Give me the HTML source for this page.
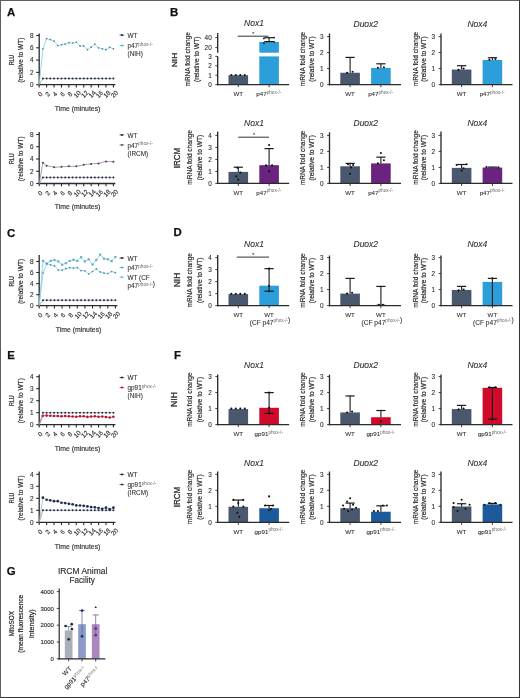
<!DOCTYPE html>
<html><head><meta charset="utf-8"><style>
html,body{margin:0;padding:0;background:#fff;}
body{width:520px;height:698px;overflow:hidden;position:relative;font-family:"Liberation Sans", sans-serif;}
svg{display:block;position:absolute;left:0;top:0;will-change:transform;}
.frame{position:absolute;left:0;top:0;width:518px;height:696px;border:1px solid #5e5e5e;border-right-color:#353535;border-bottom-color:#353535;pointer-events:none;}
</style></head><body>
<svg width="520" height="698" viewBox="0 0 520 698" font-family="'Liberation Sans', sans-serif">
<rect x="0" y="0" width="520" height="698" fill="#ffffff"/>
<text x="6.90" y="16.00" font-size="11.4" text-anchor="start" fill="#111" font-weight="bold" stroke="#111" stroke-width="0.25">A</text>
<text x="169.90" y="16.30" font-size="11.4" text-anchor="start" fill="#111" font-weight="bold" stroke="#111" stroke-width="0.25">B</text>
<text x="6.90" y="237.00" font-size="11.4" text-anchor="start" fill="#111" font-weight="bold" stroke="#111" stroke-width="0.25">C</text>
<text x="173.40" y="236.10" font-size="11.4" text-anchor="start" fill="#111" font-weight="bold" stroke="#111" stroke-width="0.25">D</text>
<text x="7.30" y="358.90" font-size="11.4" text-anchor="start" fill="#111" font-weight="bold" stroke="#111" stroke-width="0.25">E</text>
<text x="174.00" y="359.10" font-size="11.4" text-anchor="start" fill="#111" font-weight="bold" stroke="#111" stroke-width="0.25">F</text>
<text x="6.80" y="574.90" font-size="11.4" text-anchor="start" fill="#111" font-weight="bold" stroke="#111" stroke-width="0.25">G</text>
<line x1="39.20" y1="33.50" x2="39.20" y2="85.30" stroke="#2b2b2b" stroke-width="1.3"/>
<line x1="38.60" y1="84.70" x2="115.40" y2="84.70" stroke="#2b2b2b" stroke-width="1.3"/>
<line x1="36.20" y1="84.70" x2="39.20" y2="84.70" stroke="#2b2b2b" stroke-width="1.1"/>
<text x="33.60" y="87.00" font-size="6.4" text-anchor="end" fill="#2e2e2e" stroke="#2e2e2e" stroke-width="0.12" >0</text>
<line x1="36.20" y1="72.40" x2="39.20" y2="72.40" stroke="#2b2b2b" stroke-width="1.1"/>
<text x="33.60" y="74.70" font-size="6.4" text-anchor="end" fill="#2e2e2e" stroke="#2e2e2e" stroke-width="0.12" >2</text>
<line x1="36.20" y1="60.10" x2="39.20" y2="60.10" stroke="#2b2b2b" stroke-width="1.1"/>
<text x="33.60" y="62.40" font-size="6.4" text-anchor="end" fill="#2e2e2e" stroke="#2e2e2e" stroke-width="0.12" >4</text>
<line x1="36.20" y1="47.80" x2="39.20" y2="47.80" stroke="#2b2b2b" stroke-width="1.1"/>
<text x="33.60" y="50.10" font-size="6.4" text-anchor="end" fill="#2e2e2e" stroke="#2e2e2e" stroke-width="0.12" >6</text>
<line x1="36.20" y1="35.50" x2="39.20" y2="35.50" stroke="#2b2b2b" stroke-width="1.1"/>
<text x="33.60" y="37.80" font-size="6.4" text-anchor="end" fill="#2e2e2e" stroke="#2e2e2e" stroke-width="0.12" >8</text>
<line x1="39.20" y1="84.70" x2="39.20" y2="87.50" stroke="#2b2b2b" stroke-width="1.1"/>
<text x="40.40" y="96.40" font-size="6.4" text-anchor="middle" fill="#2e2e2e" stroke="#2e2e2e" stroke-width="0.12" transform="rotate(-45 40.40 94.50)">0</text>
<line x1="46.62" y1="84.70" x2="46.62" y2="87.50" stroke="#2b2b2b" stroke-width="1.1"/>
<text x="47.82" y="96.40" font-size="6.4" text-anchor="middle" fill="#2e2e2e" stroke="#2e2e2e" stroke-width="0.12" transform="rotate(-45 47.82 94.50)">2</text>
<line x1="54.04" y1="84.70" x2="54.04" y2="87.50" stroke="#2b2b2b" stroke-width="1.1"/>
<text x="55.24" y="96.40" font-size="6.4" text-anchor="middle" fill="#2e2e2e" stroke="#2e2e2e" stroke-width="0.12" transform="rotate(-45 55.24 94.50)">4</text>
<line x1="61.46" y1="84.70" x2="61.46" y2="87.50" stroke="#2b2b2b" stroke-width="1.1"/>
<text x="62.66" y="96.40" font-size="6.4" text-anchor="middle" fill="#2e2e2e" stroke="#2e2e2e" stroke-width="0.12" transform="rotate(-45 62.66 94.50)">6</text>
<line x1="68.88" y1="84.70" x2="68.88" y2="87.50" stroke="#2b2b2b" stroke-width="1.1"/>
<text x="70.08" y="96.40" font-size="6.4" text-anchor="middle" fill="#2e2e2e" stroke="#2e2e2e" stroke-width="0.12" transform="rotate(-45 70.08 94.50)">8</text>
<line x1="76.30" y1="84.70" x2="76.30" y2="87.50" stroke="#2b2b2b" stroke-width="1.1"/>
<text x="77.50" y="96.40" font-size="6.4" text-anchor="middle" fill="#2e2e2e" stroke="#2e2e2e" stroke-width="0.12" transform="rotate(-45 77.50 94.50)">10</text>
<line x1="83.72" y1="84.70" x2="83.72" y2="87.50" stroke="#2b2b2b" stroke-width="1.1"/>
<text x="84.92" y="96.40" font-size="6.4" text-anchor="middle" fill="#2e2e2e" stroke="#2e2e2e" stroke-width="0.12" transform="rotate(-45 84.92 94.50)">12</text>
<line x1="91.14" y1="84.70" x2="91.14" y2="87.50" stroke="#2b2b2b" stroke-width="1.1"/>
<text x="92.34" y="96.40" font-size="6.4" text-anchor="middle" fill="#2e2e2e" stroke="#2e2e2e" stroke-width="0.12" transform="rotate(-45 92.34 94.50)">14</text>
<line x1="98.56" y1="84.70" x2="98.56" y2="87.50" stroke="#2b2b2b" stroke-width="1.1"/>
<text x="99.76" y="96.40" font-size="6.4" text-anchor="middle" fill="#2e2e2e" stroke="#2e2e2e" stroke-width="0.12" transform="rotate(-45 99.76 94.50)">16</text>
<line x1="105.98" y1="84.70" x2="105.98" y2="87.50" stroke="#2b2b2b" stroke-width="1.1"/>
<text x="107.18" y="96.40" font-size="6.4" text-anchor="middle" fill="#2e2e2e" stroke="#2e2e2e" stroke-width="0.12" transform="rotate(-45 107.18 94.50)">18</text>
<line x1="113.40" y1="84.70" x2="113.40" y2="87.50" stroke="#2b2b2b" stroke-width="1.1"/>
<text x="114.60" y="96.40" font-size="6.4" text-anchor="middle" fill="#2e2e2e" stroke="#2e2e2e" stroke-width="0.12" transform="rotate(-45 114.60 94.50)">20</text>
<polyline points="39.20,84.70 42.91,48.78 46.62,38.58 50.33,39.62 54.04,41.22 57.75,45.52 61.46,44.73 65.17,44.11 68.88,42.70 72.59,43.00 76.30,42.27 80.01,45.95 83.72,45.95 87.43,49.65 91.14,47.19 94.85,44.11 98.56,47.80 102.27,48.78 105.98,49.65 109.69,47.31 113.40,48.78" fill="none" stroke="#8cd4ee" stroke-width="0.9"/>
<circle cx="42.91" cy="48.78" r="0.85" fill="#4f8796"/>
<circle cx="46.62" cy="38.58" r="0.85" fill="#4f8796"/>
<circle cx="50.33" cy="39.62" r="0.85" fill="#4f8796"/>
<circle cx="54.04" cy="41.22" r="0.85" fill="#4f8796"/>
<circle cx="57.75" cy="45.52" r="0.85" fill="#4f8796"/>
<circle cx="61.46" cy="44.73" r="0.85" fill="#4f8796"/>
<circle cx="65.17" cy="44.11" r="0.85" fill="#4f8796"/>
<circle cx="68.88" cy="42.70" r="0.85" fill="#4f8796"/>
<circle cx="72.59" cy="43.00" r="0.85" fill="#4f8796"/>
<circle cx="76.30" cy="42.27" r="0.85" fill="#4f8796"/>
<circle cx="80.01" cy="45.95" r="0.85" fill="#4f8796"/>
<circle cx="83.72" cy="45.95" r="0.85" fill="#4f8796"/>
<circle cx="87.43" cy="49.65" r="0.85" fill="#4f8796"/>
<circle cx="91.14" cy="47.19" r="0.85" fill="#4f8796"/>
<circle cx="94.85" cy="44.11" r="0.85" fill="#4f8796"/>
<circle cx="98.56" cy="47.80" r="0.85" fill="#4f8796"/>
<circle cx="102.27" cy="48.78" r="0.85" fill="#4f8796"/>
<circle cx="105.98" cy="49.65" r="0.85" fill="#4f8796"/>
<circle cx="109.69" cy="47.31" r="0.85" fill="#4f8796"/>
<circle cx="113.40" cy="48.78" r="0.85" fill="#4f8796"/>
<polyline points="39.20,84.70 42.91,78.55 46.62,78.55 50.33,78.55 54.04,78.55 57.75,78.55 61.46,78.55 65.17,78.55 68.88,78.55 72.59,78.55 76.30,78.55 80.01,78.55 83.72,78.55 87.43,78.55 91.14,78.55 94.85,78.55 98.56,78.55 102.27,78.55 105.98,78.55 109.69,78.55 113.40,78.55" fill="none" stroke="#8a93a0" stroke-width="0.7"/>
<circle cx="42.91" cy="78.55" r="1.0" fill="#1f2a3d"/>
<circle cx="46.62" cy="78.55" r="1.0" fill="#1f2a3d"/>
<circle cx="50.33" cy="78.55" r="1.0" fill="#1f2a3d"/>
<circle cx="54.04" cy="78.55" r="1.0" fill="#1f2a3d"/>
<circle cx="57.75" cy="78.55" r="1.0" fill="#1f2a3d"/>
<circle cx="61.46" cy="78.55" r="1.0" fill="#1f2a3d"/>
<circle cx="65.17" cy="78.55" r="1.0" fill="#1f2a3d"/>
<circle cx="68.88" cy="78.55" r="1.0" fill="#1f2a3d"/>
<circle cx="72.59" cy="78.55" r="1.0" fill="#1f2a3d"/>
<circle cx="76.30" cy="78.55" r="1.0" fill="#1f2a3d"/>
<circle cx="80.01" cy="78.55" r="1.0" fill="#1f2a3d"/>
<circle cx="83.72" cy="78.55" r="1.0" fill="#1f2a3d"/>
<circle cx="87.43" cy="78.55" r="1.0" fill="#1f2a3d"/>
<circle cx="91.14" cy="78.55" r="1.0" fill="#1f2a3d"/>
<circle cx="94.85" cy="78.55" r="1.0" fill="#1f2a3d"/>
<circle cx="98.56" cy="78.55" r="1.0" fill="#1f2a3d"/>
<circle cx="102.27" cy="78.55" r="1.0" fill="#1f2a3d"/>
<circle cx="105.98" cy="78.55" r="1.0" fill="#1f2a3d"/>
<circle cx="109.69" cy="78.55" r="1.0" fill="#1f2a3d"/>
<circle cx="113.40" cy="78.55" r="1.0" fill="#1f2a3d"/>
<line x1="119.60" y1="35.10" x2="124.20" y2="35.10" stroke="#1d2a44" stroke-width="0.8"/>
<circle cx="121.90" cy="35.10" r="1.0" fill="#1d2a44"/>
<text x="127.50" y="37.70" font-size="6.4" text-anchor="start" fill="#2e2e2e" stroke="#2e2e2e" stroke-width="0.08" >WT</text>
<line x1="119.60" y1="45.60" x2="124.20" y2="45.60" stroke="#3cb4e0" stroke-width="0.8"/>
<circle cx="121.90" cy="45.60" r="1.0" fill="#3cb4e0"/>
<text x="127.50" y="48.20" font-size="6.4" text-anchor="start" fill="#2e2e2e" stroke="#2e2e2e" stroke-width="0.08" >p47<tspan font-size="4.7" dy="-2.5" fill="#666" stroke="none">phox-/-</tspan></text>
<text x="127.50" y="56.40" font-size="6.4" text-anchor="start" fill="#2e2e2e" stroke="#2e2e2e" stroke-width="0.08" >(NIH)</text>
<text x="77.60" y="110.80" font-size="7.2" text-anchor="middle" fill="#2e2e2e" stroke="#2e2e2e" stroke-width="0.15" textLength="45.5" lengthAdjust="spacingAndGlyphs" >Time (minutes)</text>
<text x="14.20" y="60.10" font-size="8.0" text-anchor="middle" fill="#2e2e2e" stroke="#2e2e2e" stroke-width="0.2" textLength="10.5" lengthAdjust="spacingAndGlyphs" transform="rotate(-90 14.20 60.10)" >RLU</text>
<text x="23.40" y="60.10" font-size="7.4" text-anchor="middle" fill="#2e2e2e" stroke="#2e2e2e" stroke-width="0.2" textLength="45" lengthAdjust="spacingAndGlyphs" transform="rotate(-90 23.40 60.10)" >(relative to WT)</text>
<line x1="39.20" y1="132.00" x2="39.20" y2="184.10" stroke="#2b2b2b" stroke-width="1.3"/>
<line x1="38.60" y1="183.50" x2="115.40" y2="183.50" stroke="#2b2b2b" stroke-width="1.3"/>
<line x1="36.20" y1="183.50" x2="39.20" y2="183.50" stroke="#2b2b2b" stroke-width="1.1"/>
<text x="33.60" y="185.80" font-size="6.4" text-anchor="end" fill="#2e2e2e" stroke="#2e2e2e" stroke-width="0.12" >0</text>
<line x1="36.20" y1="171.25" x2="39.20" y2="171.25" stroke="#2b2b2b" stroke-width="1.1"/>
<text x="33.60" y="173.55" font-size="6.4" text-anchor="end" fill="#2e2e2e" stroke="#2e2e2e" stroke-width="0.12" >2</text>
<line x1="36.20" y1="159.00" x2="39.20" y2="159.00" stroke="#2b2b2b" stroke-width="1.1"/>
<text x="33.60" y="161.30" font-size="6.4" text-anchor="end" fill="#2e2e2e" stroke="#2e2e2e" stroke-width="0.12" >4</text>
<line x1="36.20" y1="146.75" x2="39.20" y2="146.75" stroke="#2b2b2b" stroke-width="1.1"/>
<text x="33.60" y="149.05" font-size="6.4" text-anchor="end" fill="#2e2e2e" stroke="#2e2e2e" stroke-width="0.12" >6</text>
<line x1="36.20" y1="134.50" x2="39.20" y2="134.50" stroke="#2b2b2b" stroke-width="1.1"/>
<text x="33.60" y="136.80" font-size="6.4" text-anchor="end" fill="#2e2e2e" stroke="#2e2e2e" stroke-width="0.12" >8</text>
<line x1="39.20" y1="183.50" x2="39.20" y2="186.30" stroke="#2b2b2b" stroke-width="1.1"/>
<text x="40.40" y="195.20" font-size="6.4" text-anchor="middle" fill="#2e2e2e" stroke="#2e2e2e" stroke-width="0.12" transform="rotate(-45 40.40 193.30)">0</text>
<line x1="46.62" y1="183.50" x2="46.62" y2="186.30" stroke="#2b2b2b" stroke-width="1.1"/>
<text x="47.82" y="195.20" font-size="6.4" text-anchor="middle" fill="#2e2e2e" stroke="#2e2e2e" stroke-width="0.12" transform="rotate(-45 47.82 193.30)">2</text>
<line x1="54.04" y1="183.50" x2="54.04" y2="186.30" stroke="#2b2b2b" stroke-width="1.1"/>
<text x="55.24" y="195.20" font-size="6.4" text-anchor="middle" fill="#2e2e2e" stroke="#2e2e2e" stroke-width="0.12" transform="rotate(-45 55.24 193.30)">4</text>
<line x1="61.46" y1="183.50" x2="61.46" y2="186.30" stroke="#2b2b2b" stroke-width="1.1"/>
<text x="62.66" y="195.20" font-size="6.4" text-anchor="middle" fill="#2e2e2e" stroke="#2e2e2e" stroke-width="0.12" transform="rotate(-45 62.66 193.30)">6</text>
<line x1="68.88" y1="183.50" x2="68.88" y2="186.30" stroke="#2b2b2b" stroke-width="1.1"/>
<text x="70.08" y="195.20" font-size="6.4" text-anchor="middle" fill="#2e2e2e" stroke="#2e2e2e" stroke-width="0.12" transform="rotate(-45 70.08 193.30)">8</text>
<line x1="76.30" y1="183.50" x2="76.30" y2="186.30" stroke="#2b2b2b" stroke-width="1.1"/>
<text x="77.50" y="195.20" font-size="6.4" text-anchor="middle" fill="#2e2e2e" stroke="#2e2e2e" stroke-width="0.12" transform="rotate(-45 77.50 193.30)">10</text>
<line x1="83.72" y1="183.50" x2="83.72" y2="186.30" stroke="#2b2b2b" stroke-width="1.1"/>
<text x="84.92" y="195.20" font-size="6.4" text-anchor="middle" fill="#2e2e2e" stroke="#2e2e2e" stroke-width="0.12" transform="rotate(-45 84.92 193.30)">12</text>
<line x1="91.14" y1="183.50" x2="91.14" y2="186.30" stroke="#2b2b2b" stroke-width="1.1"/>
<text x="92.34" y="195.20" font-size="6.4" text-anchor="middle" fill="#2e2e2e" stroke="#2e2e2e" stroke-width="0.12" transform="rotate(-45 92.34 193.30)">14</text>
<line x1="98.56" y1="183.50" x2="98.56" y2="186.30" stroke="#2b2b2b" stroke-width="1.1"/>
<text x="99.76" y="195.20" font-size="6.4" text-anchor="middle" fill="#2e2e2e" stroke="#2e2e2e" stroke-width="0.12" transform="rotate(-45 99.76 193.30)">16</text>
<line x1="105.98" y1="183.50" x2="105.98" y2="186.30" stroke="#2b2b2b" stroke-width="1.1"/>
<text x="107.18" y="195.20" font-size="6.4" text-anchor="middle" fill="#2e2e2e" stroke="#2e2e2e" stroke-width="0.12" transform="rotate(-45 107.18 193.30)">18</text>
<line x1="113.40" y1="183.50" x2="113.40" y2="186.30" stroke="#2b2b2b" stroke-width="1.1"/>
<text x="114.60" y="195.20" font-size="6.4" text-anchor="middle" fill="#2e2e2e" stroke="#2e2e2e" stroke-width="0.12" transform="rotate(-45 114.60 193.30)">20</text>
<polyline points="39.20,183.50 42.91,162.68 46.62,165.74 50.33,166.35 54.04,167.27 57.75,167.09 61.46,166.84 65.17,166.59 68.88,166.35 72.59,166.35 76.30,166.35 80.01,165.62 83.72,164.82 87.43,164.39 91.14,163.90 94.85,163.66 98.56,163.47 102.27,162.37 105.98,161.45 109.69,161.57 113.40,161.76" fill="none" stroke="#a08aa6" stroke-width="0.9"/>
<circle cx="42.91" cy="162.68" r="1.0" fill="#4d3a55"/>
<circle cx="46.62" cy="165.74" r="1.0" fill="#4d3a55"/>
<circle cx="54.04" cy="167.27" r="1.0" fill="#4d3a55"/>
<circle cx="61.46" cy="166.84" r="1.0" fill="#4d3a55"/>
<circle cx="68.88" cy="166.35" r="1.0" fill="#4d3a55"/>
<circle cx="76.30" cy="166.35" r="1.0" fill="#4d3a55"/>
<circle cx="83.72" cy="164.82" r="1.0" fill="#4d3a55"/>
<circle cx="91.14" cy="163.90" r="1.0" fill="#4d3a55"/>
<circle cx="98.56" cy="163.47" r="1.0" fill="#4d3a55"/>
<circle cx="105.98" cy="161.45" r="1.0" fill="#4d3a55"/>
<circle cx="113.40" cy="161.76" r="1.0" fill="#4d3a55"/>
<polyline points="39.20,183.50 42.91,177.38 46.62,177.38 50.33,177.38 54.04,177.38 57.75,177.38 61.46,177.38 65.17,177.38 68.88,177.38 72.59,177.38 76.30,177.38 80.01,177.38 83.72,177.38 87.43,177.38 91.14,177.38 94.85,177.38 98.56,177.38 102.27,177.38 105.98,177.38 109.69,177.38 113.40,177.38" fill="none" stroke="#8a93a0" stroke-width="0.7"/>
<circle cx="42.91" cy="177.38" r="1.0" fill="#1f2a3d"/>
<circle cx="46.62" cy="177.38" r="1.0" fill="#1f2a3d"/>
<circle cx="50.33" cy="177.38" r="1.0" fill="#1f2a3d"/>
<circle cx="54.04" cy="177.38" r="1.0" fill="#1f2a3d"/>
<circle cx="57.75" cy="177.38" r="1.0" fill="#1f2a3d"/>
<circle cx="61.46" cy="177.38" r="1.0" fill="#1f2a3d"/>
<circle cx="65.17" cy="177.38" r="1.0" fill="#1f2a3d"/>
<circle cx="68.88" cy="177.38" r="1.0" fill="#1f2a3d"/>
<circle cx="72.59" cy="177.38" r="1.0" fill="#1f2a3d"/>
<circle cx="76.30" cy="177.38" r="1.0" fill="#1f2a3d"/>
<circle cx="80.01" cy="177.38" r="1.0" fill="#1f2a3d"/>
<circle cx="83.72" cy="177.38" r="1.0" fill="#1f2a3d"/>
<circle cx="87.43" cy="177.38" r="1.0" fill="#1f2a3d"/>
<circle cx="91.14" cy="177.38" r="1.0" fill="#1f2a3d"/>
<circle cx="94.85" cy="177.38" r="1.0" fill="#1f2a3d"/>
<circle cx="98.56" cy="177.38" r="1.0" fill="#1f2a3d"/>
<circle cx="102.27" cy="177.38" r="1.0" fill="#1f2a3d"/>
<circle cx="105.98" cy="177.38" r="1.0" fill="#1f2a3d"/>
<circle cx="109.69" cy="177.38" r="1.0" fill="#1f2a3d"/>
<circle cx="113.40" cy="177.38" r="1.0" fill="#1f2a3d"/>
<line x1="119.60" y1="134.90" x2="124.20" y2="134.90" stroke="#1d2a44" stroke-width="0.8"/>
<circle cx="121.90" cy="134.90" r="1.0" fill="#1d2a44"/>
<text x="127.50" y="137.50" font-size="6.4" text-anchor="start" fill="#2e2e2e" stroke="#2e2e2e" stroke-width="0.08" >WT</text>
<line x1="119.60" y1="144.90" x2="124.20" y2="144.90" stroke="#7a4a7e" stroke-width="0.8"/>
<circle cx="121.90" cy="144.90" r="1.0" fill="#7a4a7e"/>
<text x="127.50" y="147.50" font-size="6.4" text-anchor="start" fill="#2e2e2e" stroke="#2e2e2e" stroke-width="0.08" >p47<tspan font-size="4.7" dy="-2.5" fill="#666" stroke="none">phox-/-</tspan></text>
<text x="127.50" y="155.70" font-size="6.4" text-anchor="start" fill="#2e2e2e" stroke="#2e2e2e" stroke-width="0.08" >(IRCM)</text>
<text x="77.60" y="209.40" font-size="7.2" text-anchor="middle" fill="#2e2e2e" stroke="#2e2e2e" stroke-width="0.15" textLength="45.5" lengthAdjust="spacingAndGlyphs" >Time (minutes)</text>
<text x="14.20" y="158.75" font-size="8.0" text-anchor="middle" fill="#2e2e2e" stroke="#2e2e2e" stroke-width="0.2" textLength="10.5" lengthAdjust="spacingAndGlyphs" transform="rotate(-90 14.20 158.75)" >RLU</text>
<text x="23.40" y="158.75" font-size="7.4" text-anchor="middle" fill="#2e2e2e" stroke="#2e2e2e" stroke-width="0.2" textLength="45" lengthAdjust="spacingAndGlyphs" transform="rotate(-90 23.40 158.75)" >(relative to WT)</text>
<line x1="39.20" y1="255.00" x2="39.20" y2="306.30" stroke="#2b2b2b" stroke-width="1.3"/>
<line x1="38.60" y1="305.70" x2="117.40" y2="305.70" stroke="#2b2b2b" stroke-width="1.3"/>
<line x1="36.20" y1="305.70" x2="39.20" y2="305.70" stroke="#2b2b2b" stroke-width="1.1"/>
<text x="33.60" y="308.00" font-size="6.4" text-anchor="end" fill="#2e2e2e" stroke="#2e2e2e" stroke-width="0.12" >0</text>
<line x1="36.20" y1="294.64" x2="39.20" y2="294.64" stroke="#2b2b2b" stroke-width="1.1"/>
<text x="33.60" y="296.94" font-size="6.4" text-anchor="end" fill="#2e2e2e" stroke="#2e2e2e" stroke-width="0.12" >2</text>
<line x1="36.20" y1="283.58" x2="39.20" y2="283.58" stroke="#2b2b2b" stroke-width="1.1"/>
<text x="33.60" y="285.88" font-size="6.4" text-anchor="end" fill="#2e2e2e" stroke="#2e2e2e" stroke-width="0.12" >4</text>
<line x1="36.20" y1="272.52" x2="39.20" y2="272.52" stroke="#2b2b2b" stroke-width="1.1"/>
<text x="33.60" y="274.82" font-size="6.4" text-anchor="end" fill="#2e2e2e" stroke="#2e2e2e" stroke-width="0.12" >6</text>
<line x1="36.20" y1="261.46" x2="39.20" y2="261.46" stroke="#2b2b2b" stroke-width="1.1"/>
<text x="33.60" y="263.76" font-size="6.4" text-anchor="end" fill="#2e2e2e" stroke="#2e2e2e" stroke-width="0.12" >8</text>
<line x1="39.20" y1="305.70" x2="39.20" y2="308.50" stroke="#2b2b2b" stroke-width="1.1"/>
<text x="40.40" y="317.40" font-size="6.4" text-anchor="middle" fill="#2e2e2e" stroke="#2e2e2e" stroke-width="0.12" transform="rotate(-45 40.40 315.50)">0</text>
<line x1="46.82" y1="305.70" x2="46.82" y2="308.50" stroke="#2b2b2b" stroke-width="1.1"/>
<text x="48.02" y="317.40" font-size="6.4" text-anchor="middle" fill="#2e2e2e" stroke="#2e2e2e" stroke-width="0.12" transform="rotate(-45 48.02 315.50)">2</text>
<line x1="54.44" y1="305.70" x2="54.44" y2="308.50" stroke="#2b2b2b" stroke-width="1.1"/>
<text x="55.64" y="317.40" font-size="6.4" text-anchor="middle" fill="#2e2e2e" stroke="#2e2e2e" stroke-width="0.12" transform="rotate(-45 55.64 315.50)">4</text>
<line x1="62.06" y1="305.70" x2="62.06" y2="308.50" stroke="#2b2b2b" stroke-width="1.1"/>
<text x="63.26" y="317.40" font-size="6.4" text-anchor="middle" fill="#2e2e2e" stroke="#2e2e2e" stroke-width="0.12" transform="rotate(-45 63.26 315.50)">6</text>
<line x1="69.68" y1="305.70" x2="69.68" y2="308.50" stroke="#2b2b2b" stroke-width="1.1"/>
<text x="70.88" y="317.40" font-size="6.4" text-anchor="middle" fill="#2e2e2e" stroke="#2e2e2e" stroke-width="0.12" transform="rotate(-45 70.88 315.50)">8</text>
<line x1="77.30" y1="305.70" x2="77.30" y2="308.50" stroke="#2b2b2b" stroke-width="1.1"/>
<text x="78.50" y="317.40" font-size="6.4" text-anchor="middle" fill="#2e2e2e" stroke="#2e2e2e" stroke-width="0.12" transform="rotate(-45 78.50 315.50)">10</text>
<line x1="84.92" y1="305.70" x2="84.92" y2="308.50" stroke="#2b2b2b" stroke-width="1.1"/>
<text x="86.12" y="317.40" font-size="6.4" text-anchor="middle" fill="#2e2e2e" stroke="#2e2e2e" stroke-width="0.12" transform="rotate(-45 86.12 315.50)">12</text>
<line x1="92.54" y1="305.70" x2="92.54" y2="308.50" stroke="#2b2b2b" stroke-width="1.1"/>
<text x="93.74" y="317.40" font-size="6.4" text-anchor="middle" fill="#2e2e2e" stroke="#2e2e2e" stroke-width="0.12" transform="rotate(-45 93.74 315.50)">14</text>
<line x1="100.16" y1="305.70" x2="100.16" y2="308.50" stroke="#2b2b2b" stroke-width="1.1"/>
<text x="101.36" y="317.40" font-size="6.4" text-anchor="middle" fill="#2e2e2e" stroke="#2e2e2e" stroke-width="0.12" transform="rotate(-45 101.36 315.50)">16</text>
<line x1="107.78" y1="305.70" x2="107.78" y2="308.50" stroke="#2b2b2b" stroke-width="1.1"/>
<text x="108.98" y="317.40" font-size="6.4" text-anchor="middle" fill="#2e2e2e" stroke="#2e2e2e" stroke-width="0.12" transform="rotate(-45 108.98 315.50)">18</text>
<line x1="115.40" y1="305.70" x2="115.40" y2="308.50" stroke="#2b2b2b" stroke-width="1.1"/>
<text x="116.60" y="317.40" font-size="6.4" text-anchor="middle" fill="#2e2e2e" stroke="#2e2e2e" stroke-width="0.12" transform="rotate(-45 116.60 315.50)">20</text>
<polyline points="39.20,305.70 43.01,260.91 46.82,263.67 50.63,260.91 54.44,260.02 58.25,261.46 62.06,264.78 65.87,263.12 69.68,260.91 73.49,259.80 77.30,260.91 81.11,257.20 84.92,261.46 88.73,259.25 92.54,264.61 96.35,260.02 100.16,254.60 103.97,258.69 107.78,259.25 111.59,261.18 115.40,257.04" fill="none" stroke="#86d3ec" stroke-width="0.9"/>
<rect x="41.91" y="259.81" width="2.2" height="2.2" fill="#6aaec2"/>
<rect x="45.72" y="262.57" width="2.2" height="2.2" fill="#6aaec2"/>
<rect x="49.53" y="259.81" width="2.2" height="2.2" fill="#6aaec2"/>
<rect x="53.34" y="258.92" width="2.2" height="2.2" fill="#6aaec2"/>
<rect x="57.15" y="260.36" width="2.2" height="2.2" fill="#6aaec2"/>
<rect x="60.96" y="263.68" width="2.2" height="2.2" fill="#6aaec2"/>
<rect x="64.77" y="262.02" width="2.2" height="2.2" fill="#6aaec2"/>
<rect x="68.58" y="259.81" width="2.2" height="2.2" fill="#6aaec2"/>
<rect x="72.39" y="258.70" width="2.2" height="2.2" fill="#6aaec2"/>
<rect x="76.20" y="259.81" width="2.2" height="2.2" fill="#6aaec2"/>
<rect x="80.01" y="256.10" width="2.2" height="2.2" fill="#6aaec2"/>
<rect x="83.82" y="260.36" width="2.2" height="2.2" fill="#6aaec2"/>
<rect x="87.63" y="258.15" width="2.2" height="2.2" fill="#6aaec2"/>
<rect x="91.44" y="263.51" width="2.2" height="2.2" fill="#6aaec2"/>
<rect x="95.25" y="258.92" width="2.2" height="2.2" fill="#6aaec2"/>
<rect x="99.06" y="253.50" width="2.2" height="2.2" fill="#6aaec2"/>
<rect x="102.87" y="257.59" width="2.2" height="2.2" fill="#6aaec2"/>
<rect x="106.68" y="258.15" width="2.2" height="2.2" fill="#6aaec2"/>
<rect x="110.49" y="260.08" width="2.2" height="2.2" fill="#6aaec2"/>
<rect x="114.30" y="255.94" width="2.2" height="2.2" fill="#6aaec2"/>
<polyline points="39.20,305.70 43.01,273.07 46.82,263.67 50.63,264.78 54.44,265.88 58.25,270.03 62.06,270.03 65.87,268.65 69.68,267.71 73.49,268.10 77.30,267.54 81.11,270.53 84.92,270.86 88.73,273.79 92.54,271.52 96.35,268.93 100.16,271.97 103.97,273.07 107.78,273.52 111.59,271.52 115.40,272.63" fill="none" stroke="#8cd4ee" stroke-width="0.9"/>
<circle cx="43.01" cy="273.07" r="0.85" fill="#4f8796"/>
<circle cx="46.82" cy="263.67" r="0.85" fill="#4f8796"/>
<circle cx="50.63" cy="264.78" r="0.85" fill="#4f8796"/>
<circle cx="54.44" cy="265.88" r="0.85" fill="#4f8796"/>
<circle cx="58.25" cy="270.03" r="0.85" fill="#4f8796"/>
<circle cx="62.06" cy="270.03" r="0.85" fill="#4f8796"/>
<circle cx="65.87" cy="268.65" r="0.85" fill="#4f8796"/>
<circle cx="69.68" cy="267.71" r="0.85" fill="#4f8796"/>
<circle cx="73.49" cy="268.10" r="0.85" fill="#4f8796"/>
<circle cx="77.30" cy="267.54" r="0.85" fill="#4f8796"/>
<circle cx="81.11" cy="270.53" r="0.85" fill="#4f8796"/>
<circle cx="84.92" cy="270.86" r="0.85" fill="#4f8796"/>
<circle cx="88.73" cy="273.79" r="0.85" fill="#4f8796"/>
<circle cx="92.54" cy="271.52" r="0.85" fill="#4f8796"/>
<circle cx="96.35" cy="268.93" r="0.85" fill="#4f8796"/>
<circle cx="100.16" cy="271.97" r="0.85" fill="#4f8796"/>
<circle cx="103.97" cy="273.07" r="0.85" fill="#4f8796"/>
<circle cx="107.78" cy="273.52" r="0.85" fill="#4f8796"/>
<circle cx="111.59" cy="271.52" r="0.85" fill="#4f8796"/>
<circle cx="115.40" cy="272.63" r="0.85" fill="#4f8796"/>
<polyline points="39.20,305.70 43.01,300.17 46.82,300.17 50.63,300.17 54.44,300.17 58.25,300.17 62.06,300.17 65.87,300.17 69.68,300.17 73.49,300.17 77.30,300.17 81.11,300.17 84.92,300.17 88.73,300.17 92.54,300.17 96.35,300.17 100.16,300.17 103.97,300.17 107.78,300.17 111.59,300.17 115.40,300.17" fill="none" stroke="#8a93a0" stroke-width="0.7"/>
<circle cx="43.01" cy="300.17" r="1.0" fill="#1f2a3d"/>
<circle cx="46.82" cy="300.17" r="1.0" fill="#1f2a3d"/>
<circle cx="50.63" cy="300.17" r="1.0" fill="#1f2a3d"/>
<circle cx="54.44" cy="300.17" r="1.0" fill="#1f2a3d"/>
<circle cx="58.25" cy="300.17" r="1.0" fill="#1f2a3d"/>
<circle cx="62.06" cy="300.17" r="1.0" fill="#1f2a3d"/>
<circle cx="65.87" cy="300.17" r="1.0" fill="#1f2a3d"/>
<circle cx="69.68" cy="300.17" r="1.0" fill="#1f2a3d"/>
<circle cx="73.49" cy="300.17" r="1.0" fill="#1f2a3d"/>
<circle cx="77.30" cy="300.17" r="1.0" fill="#1f2a3d"/>
<circle cx="81.11" cy="300.17" r="1.0" fill="#1f2a3d"/>
<circle cx="84.92" cy="300.17" r="1.0" fill="#1f2a3d"/>
<circle cx="88.73" cy="300.17" r="1.0" fill="#1f2a3d"/>
<circle cx="92.54" cy="300.17" r="1.0" fill="#1f2a3d"/>
<circle cx="96.35" cy="300.17" r="1.0" fill="#1f2a3d"/>
<circle cx="100.16" cy="300.17" r="1.0" fill="#1f2a3d"/>
<circle cx="103.97" cy="300.17" r="1.0" fill="#1f2a3d"/>
<circle cx="107.78" cy="300.17" r="1.0" fill="#1f2a3d"/>
<circle cx="111.59" cy="300.17" r="1.0" fill="#1f2a3d"/>
<circle cx="115.40" cy="300.17" r="1.0" fill="#1f2a3d"/>
<line x1="119.60" y1="258.00" x2="124.20" y2="258.00" stroke="#1d2a44" stroke-width="0.8"/>
<circle cx="121.90" cy="258.00" r="1.0" fill="#1d2a44"/>
<text x="127.50" y="260.60" font-size="6.4" text-anchor="start" fill="#2e2e2e" stroke="#2e2e2e" stroke-width="0.08" >WT</text>
<line x1="119.60" y1="267.60" x2="124.20" y2="267.60" stroke="#3cb4e0" stroke-width="0.8"/>
<circle cx="121.90" cy="267.60" r="1.0" fill="#3cb4e0"/>
<text x="127.50" y="270.20" font-size="6.4" text-anchor="start" fill="#2e2e2e" stroke="#2e2e2e" stroke-width="0.08" >p47<tspan font-size="4.7" dy="-2.5" fill="#666" stroke="none">phox-/-</tspan></text>
<line x1="119.60" y1="277.20" x2="124.20" y2="277.20" stroke="#5cc3e6" stroke-width="0.8"/>
<circle cx="121.90" cy="277.20" r="1.0" fill="#5cc3e6"/>
<text x="127.50" y="279.80" font-size="6.4" text-anchor="start" fill="#2e2e2e" stroke="#2e2e2e" stroke-width="0.08" >WT (CF</text>
<text x="127.50" y="288.00" font-size="6.4" text-anchor="start" fill="#2e2e2e" stroke="#2e2e2e" stroke-width="0.08" >p47<tspan font-size="4.7" dy="-2.5" fill="#666" stroke="none">phox-/-</tspan>)</text>
<text x="78.60" y="332.00" font-size="7.2" text-anchor="middle" fill="#2e2e2e" stroke="#2e2e2e" stroke-width="0.15" textLength="45.5" lengthAdjust="spacingAndGlyphs" >Time (minutes)</text>
<text x="14.20" y="281.35" font-size="8.0" text-anchor="middle" fill="#2e2e2e" stroke="#2e2e2e" stroke-width="0.2" textLength="10.5" lengthAdjust="spacingAndGlyphs" transform="rotate(-90 14.20 281.35)" >RLU</text>
<text x="23.40" y="281.35" font-size="7.4" text-anchor="middle" fill="#2e2e2e" stroke="#2e2e2e" stroke-width="0.2" textLength="45" lengthAdjust="spacingAndGlyphs" transform="rotate(-90 23.40 281.35)" >(relative to WT)</text>
<line x1="39.20" y1="374.60" x2="39.20" y2="425.30" stroke="#2b2b2b" stroke-width="1.3"/>
<line x1="38.60" y1="424.70" x2="115.40" y2="424.70" stroke="#2b2b2b" stroke-width="1.3"/>
<line x1="36.20" y1="424.70" x2="39.20" y2="424.70" stroke="#2b2b2b" stroke-width="1.1"/>
<text x="33.60" y="427.00" font-size="6.4" text-anchor="end" fill="#2e2e2e" stroke="#2e2e2e" stroke-width="0.12" >0</text>
<line x1="36.20" y1="412.70" x2="39.20" y2="412.70" stroke="#2b2b2b" stroke-width="1.1"/>
<text x="33.60" y="415.00" font-size="6.4" text-anchor="end" fill="#2e2e2e" stroke="#2e2e2e" stroke-width="0.12" >1</text>
<line x1="36.20" y1="400.70" x2="39.20" y2="400.70" stroke="#2b2b2b" stroke-width="1.1"/>
<text x="33.60" y="403.00" font-size="6.4" text-anchor="end" fill="#2e2e2e" stroke="#2e2e2e" stroke-width="0.12" >2</text>
<line x1="36.20" y1="388.70" x2="39.20" y2="388.70" stroke="#2b2b2b" stroke-width="1.1"/>
<text x="33.60" y="391.00" font-size="6.4" text-anchor="end" fill="#2e2e2e" stroke="#2e2e2e" stroke-width="0.12" >3</text>
<line x1="36.20" y1="376.70" x2="39.20" y2="376.70" stroke="#2b2b2b" stroke-width="1.1"/>
<text x="33.60" y="379.00" font-size="6.4" text-anchor="end" fill="#2e2e2e" stroke="#2e2e2e" stroke-width="0.12" >4</text>
<line x1="39.20" y1="424.70" x2="39.20" y2="427.50" stroke="#2b2b2b" stroke-width="1.1"/>
<text x="40.40" y="436.40" font-size="6.4" text-anchor="middle" fill="#2e2e2e" stroke="#2e2e2e" stroke-width="0.12" transform="rotate(-45 40.40 434.50)">0</text>
<line x1="46.62" y1="424.70" x2="46.62" y2="427.50" stroke="#2b2b2b" stroke-width="1.1"/>
<text x="47.82" y="436.40" font-size="6.4" text-anchor="middle" fill="#2e2e2e" stroke="#2e2e2e" stroke-width="0.12" transform="rotate(-45 47.82 434.50)">2</text>
<line x1="54.04" y1="424.70" x2="54.04" y2="427.50" stroke="#2b2b2b" stroke-width="1.1"/>
<text x="55.24" y="436.40" font-size="6.4" text-anchor="middle" fill="#2e2e2e" stroke="#2e2e2e" stroke-width="0.12" transform="rotate(-45 55.24 434.50)">4</text>
<line x1="61.46" y1="424.70" x2="61.46" y2="427.50" stroke="#2b2b2b" stroke-width="1.1"/>
<text x="62.66" y="436.40" font-size="6.4" text-anchor="middle" fill="#2e2e2e" stroke="#2e2e2e" stroke-width="0.12" transform="rotate(-45 62.66 434.50)">6</text>
<line x1="68.88" y1="424.70" x2="68.88" y2="427.50" stroke="#2b2b2b" stroke-width="1.1"/>
<text x="70.08" y="436.40" font-size="6.4" text-anchor="middle" fill="#2e2e2e" stroke="#2e2e2e" stroke-width="0.12" transform="rotate(-45 70.08 434.50)">8</text>
<line x1="76.30" y1="424.70" x2="76.30" y2="427.50" stroke="#2b2b2b" stroke-width="1.1"/>
<text x="77.50" y="436.40" font-size="6.4" text-anchor="middle" fill="#2e2e2e" stroke="#2e2e2e" stroke-width="0.12" transform="rotate(-45 77.50 434.50)">10</text>
<line x1="83.72" y1="424.70" x2="83.72" y2="427.50" stroke="#2b2b2b" stroke-width="1.1"/>
<text x="84.92" y="436.40" font-size="6.4" text-anchor="middle" fill="#2e2e2e" stroke="#2e2e2e" stroke-width="0.12" transform="rotate(-45 84.92 434.50)">12</text>
<line x1="91.14" y1="424.70" x2="91.14" y2="427.50" stroke="#2b2b2b" stroke-width="1.1"/>
<text x="92.34" y="436.40" font-size="6.4" text-anchor="middle" fill="#2e2e2e" stroke="#2e2e2e" stroke-width="0.12" transform="rotate(-45 92.34 434.50)">14</text>
<line x1="98.56" y1="424.70" x2="98.56" y2="427.50" stroke="#2b2b2b" stroke-width="1.1"/>
<text x="99.76" y="436.40" font-size="6.4" text-anchor="middle" fill="#2e2e2e" stroke="#2e2e2e" stroke-width="0.12" transform="rotate(-45 99.76 434.50)">16</text>
<line x1="105.98" y1="424.70" x2="105.98" y2="427.50" stroke="#2b2b2b" stroke-width="1.1"/>
<text x="107.18" y="436.40" font-size="6.4" text-anchor="middle" fill="#2e2e2e" stroke="#2e2e2e" stroke-width="0.12" transform="rotate(-45 107.18 434.50)">18</text>
<line x1="113.40" y1="424.70" x2="113.40" y2="427.50" stroke="#2b2b2b" stroke-width="1.1"/>
<text x="114.60" y="436.40" font-size="6.4" text-anchor="middle" fill="#2e2e2e" stroke="#2e2e2e" stroke-width="0.12" transform="rotate(-45 114.60 434.50)">20</text>
<polyline points="39.20,424.70 42.91,415.70 46.62,415.58 50.33,415.82 54.04,416.06 57.75,415.94 61.46,416.30 65.17,416.06 68.88,416.30 72.59,416.54 76.30,416.78 80.01,416.30 83.72,416.30 87.43,416.90 91.14,416.54 94.85,416.30 98.56,416.78 102.27,416.54 105.98,417.02 109.69,417.50 113.40,416.78" fill="none" stroke="#e06a7e" stroke-width="0.9"/>
<circle cx="42.91" cy="415.70" r="1.3" fill="#b3112e"/>
<circle cx="46.62" cy="415.58" r="1.3" fill="#b3112e"/>
<circle cx="50.33" cy="415.82" r="1.3" fill="#b3112e"/>
<circle cx="54.04" cy="416.06" r="1.3" fill="#b3112e"/>
<circle cx="57.75" cy="415.94" r="1.3" fill="#b3112e"/>
<circle cx="61.46" cy="416.30" r="1.3" fill="#b3112e"/>
<circle cx="65.17" cy="416.06" r="1.3" fill="#b3112e"/>
<circle cx="68.88" cy="416.30" r="1.3" fill="#b3112e"/>
<circle cx="72.59" cy="416.54" r="1.3" fill="#b3112e"/>
<circle cx="76.30" cy="416.78" r="1.3" fill="#b3112e"/>
<circle cx="80.01" cy="416.30" r="1.3" fill="#b3112e"/>
<circle cx="83.72" cy="416.30" r="1.3" fill="#b3112e"/>
<circle cx="87.43" cy="416.90" r="1.3" fill="#b3112e"/>
<circle cx="91.14" cy="416.54" r="1.3" fill="#b3112e"/>
<circle cx="94.85" cy="416.30" r="1.3" fill="#b3112e"/>
<circle cx="98.56" cy="416.78" r="1.3" fill="#b3112e"/>
<circle cx="102.27" cy="416.54" r="1.3" fill="#b3112e"/>
<circle cx="105.98" cy="417.02" r="1.3" fill="#b3112e"/>
<circle cx="109.69" cy="417.50" r="1.3" fill="#b3112e"/>
<circle cx="113.40" cy="416.78" r="1.3" fill="#b3112e"/>
<polyline points="39.20,424.70 42.91,412.70 46.62,412.70 50.33,412.70 54.04,412.70 57.75,412.70 61.46,412.70 65.17,412.70 68.88,412.70 72.59,412.70 76.30,412.70 80.01,412.70 83.72,412.70 87.43,412.70 91.14,412.70 94.85,412.70 98.56,412.70 102.27,412.70 105.98,412.70 109.69,412.70 113.40,412.70" fill="none" stroke="#8a93a0" stroke-width="0.7"/>
<circle cx="42.91" cy="412.70" r="0.95" fill="#1f2a3d"/>
<circle cx="46.62" cy="412.70" r="0.95" fill="#1f2a3d"/>
<circle cx="50.33" cy="412.70" r="0.95" fill="#1f2a3d"/>
<circle cx="54.04" cy="412.70" r="0.95" fill="#1f2a3d"/>
<circle cx="57.75" cy="412.70" r="0.95" fill="#1f2a3d"/>
<circle cx="61.46" cy="412.70" r="0.95" fill="#1f2a3d"/>
<circle cx="65.17" cy="412.70" r="0.95" fill="#1f2a3d"/>
<circle cx="68.88" cy="412.70" r="0.95" fill="#1f2a3d"/>
<circle cx="72.59" cy="412.70" r="0.95" fill="#1f2a3d"/>
<circle cx="76.30" cy="412.70" r="0.95" fill="#1f2a3d"/>
<circle cx="80.01" cy="412.70" r="0.95" fill="#1f2a3d"/>
<circle cx="83.72" cy="412.70" r="0.95" fill="#1f2a3d"/>
<circle cx="87.43" cy="412.70" r="0.95" fill="#1f2a3d"/>
<circle cx="91.14" cy="412.70" r="0.95" fill="#1f2a3d"/>
<circle cx="94.85" cy="412.70" r="0.95" fill="#1f2a3d"/>
<circle cx="98.56" cy="412.70" r="0.95" fill="#1f2a3d"/>
<circle cx="102.27" cy="412.70" r="0.95" fill="#1f2a3d"/>
<circle cx="105.98" cy="412.70" r="0.95" fill="#1f2a3d"/>
<circle cx="109.69" cy="412.70" r="0.95" fill="#1f2a3d"/>
<circle cx="113.40" cy="412.70" r="0.95" fill="#1f2a3d"/>
<line x1="119.60" y1="377.60" x2="124.20" y2="377.60" stroke="#1d2a44" stroke-width="0.8"/>
<circle cx="121.90" cy="377.60" r="1.0" fill="#1d2a44"/>
<text x="127.50" y="380.20" font-size="6.4" text-anchor="start" fill="#2e2e2e" stroke="#2e2e2e" stroke-width="0.08" >WT</text>
<line x1="119.60" y1="387.60" x2="124.20" y2="387.60" stroke="#c8102e" stroke-width="0.8"/>
<circle cx="121.90" cy="387.60" r="1.0" fill="#c8102e"/>
<text x="127.50" y="390.20" font-size="6.4" text-anchor="start" fill="#2e2e2e" stroke="#2e2e2e" stroke-width="0.08" >gp91<tspan font-size="4.7" dy="-2.5" fill="#666" stroke="none">phox-/-</tspan></text>
<text x="127.50" y="398.40" font-size="6.4" text-anchor="start" fill="#2e2e2e" stroke="#2e2e2e" stroke-width="0.08" >(NIH)</text>
<text x="77.60" y="451.00" font-size="7.2" text-anchor="middle" fill="#2e2e2e" stroke="#2e2e2e" stroke-width="0.15" textLength="45.5" lengthAdjust="spacingAndGlyphs" >Time (minutes)</text>
<text x="14.20" y="400.65" font-size="8.0" text-anchor="middle" fill="#2e2e2e" stroke="#2e2e2e" stroke-width="0.2" textLength="10.5" lengthAdjust="spacingAndGlyphs" transform="rotate(-90 14.20 400.65)" >RLU</text>
<text x="23.40" y="400.65" font-size="7.4" text-anchor="middle" fill="#2e2e2e" stroke="#2e2e2e" stroke-width="0.2" textLength="45" lengthAdjust="spacingAndGlyphs" transform="rotate(-90 23.40 400.65)" >(relative to WT)</text>
<line x1="39.20" y1="471.50" x2="39.20" y2="522.90" stroke="#2b2b2b" stroke-width="1.3"/>
<line x1="38.60" y1="522.30" x2="115.40" y2="522.30" stroke="#2b2b2b" stroke-width="1.3"/>
<line x1="36.20" y1="522.30" x2="39.20" y2="522.30" stroke="#2b2b2b" stroke-width="1.1"/>
<text x="33.60" y="524.60" font-size="6.4" text-anchor="end" fill="#2e2e2e" stroke="#2e2e2e" stroke-width="0.12" >0</text>
<line x1="36.20" y1="510.30" x2="39.20" y2="510.30" stroke="#2b2b2b" stroke-width="1.1"/>
<text x="33.60" y="512.60" font-size="6.4" text-anchor="end" fill="#2e2e2e" stroke="#2e2e2e" stroke-width="0.12" >1</text>
<line x1="36.20" y1="498.30" x2="39.20" y2="498.30" stroke="#2b2b2b" stroke-width="1.1"/>
<text x="33.60" y="500.60" font-size="6.4" text-anchor="end" fill="#2e2e2e" stroke="#2e2e2e" stroke-width="0.12" >2</text>
<line x1="36.20" y1="486.30" x2="39.20" y2="486.30" stroke="#2b2b2b" stroke-width="1.1"/>
<text x="33.60" y="488.60" font-size="6.4" text-anchor="end" fill="#2e2e2e" stroke="#2e2e2e" stroke-width="0.12" >3</text>
<line x1="36.20" y1="474.30" x2="39.20" y2="474.30" stroke="#2b2b2b" stroke-width="1.1"/>
<text x="33.60" y="476.60" font-size="6.4" text-anchor="end" fill="#2e2e2e" stroke="#2e2e2e" stroke-width="0.12" >4</text>
<line x1="39.20" y1="522.30" x2="39.20" y2="525.10" stroke="#2b2b2b" stroke-width="1.1"/>
<text x="40.40" y="534.00" font-size="6.4" text-anchor="middle" fill="#2e2e2e" stroke="#2e2e2e" stroke-width="0.12" transform="rotate(-45 40.40 532.10)">0</text>
<line x1="46.62" y1="522.30" x2="46.62" y2="525.10" stroke="#2b2b2b" stroke-width="1.1"/>
<text x="47.82" y="534.00" font-size="6.4" text-anchor="middle" fill="#2e2e2e" stroke="#2e2e2e" stroke-width="0.12" transform="rotate(-45 47.82 532.10)">2</text>
<line x1="54.04" y1="522.30" x2="54.04" y2="525.10" stroke="#2b2b2b" stroke-width="1.1"/>
<text x="55.24" y="534.00" font-size="6.4" text-anchor="middle" fill="#2e2e2e" stroke="#2e2e2e" stroke-width="0.12" transform="rotate(-45 55.24 532.10)">4</text>
<line x1="61.46" y1="522.30" x2="61.46" y2="525.10" stroke="#2b2b2b" stroke-width="1.1"/>
<text x="62.66" y="534.00" font-size="6.4" text-anchor="middle" fill="#2e2e2e" stroke="#2e2e2e" stroke-width="0.12" transform="rotate(-45 62.66 532.10)">6</text>
<line x1="68.88" y1="522.30" x2="68.88" y2="525.10" stroke="#2b2b2b" stroke-width="1.1"/>
<text x="70.08" y="534.00" font-size="6.4" text-anchor="middle" fill="#2e2e2e" stroke="#2e2e2e" stroke-width="0.12" transform="rotate(-45 70.08 532.10)">8</text>
<line x1="76.30" y1="522.30" x2="76.30" y2="525.10" stroke="#2b2b2b" stroke-width="1.1"/>
<text x="77.50" y="534.00" font-size="6.4" text-anchor="middle" fill="#2e2e2e" stroke="#2e2e2e" stroke-width="0.12" transform="rotate(-45 77.50 532.10)">10</text>
<line x1="83.72" y1="522.30" x2="83.72" y2="525.10" stroke="#2b2b2b" stroke-width="1.1"/>
<text x="84.92" y="534.00" font-size="6.4" text-anchor="middle" fill="#2e2e2e" stroke="#2e2e2e" stroke-width="0.12" transform="rotate(-45 84.92 532.10)">12</text>
<line x1="91.14" y1="522.30" x2="91.14" y2="525.10" stroke="#2b2b2b" stroke-width="1.1"/>
<text x="92.34" y="534.00" font-size="6.4" text-anchor="middle" fill="#2e2e2e" stroke="#2e2e2e" stroke-width="0.12" transform="rotate(-45 92.34 532.10)">14</text>
<line x1="98.56" y1="522.30" x2="98.56" y2="525.10" stroke="#2b2b2b" stroke-width="1.1"/>
<text x="99.76" y="534.00" font-size="6.4" text-anchor="middle" fill="#2e2e2e" stroke="#2e2e2e" stroke-width="0.12" transform="rotate(-45 99.76 532.10)">16</text>
<line x1="105.98" y1="522.30" x2="105.98" y2="525.10" stroke="#2b2b2b" stroke-width="1.1"/>
<text x="107.18" y="534.00" font-size="6.4" text-anchor="middle" fill="#2e2e2e" stroke="#2e2e2e" stroke-width="0.12" transform="rotate(-45 107.18 532.10)">18</text>
<line x1="113.40" y1="522.30" x2="113.40" y2="525.10" stroke="#2b2b2b" stroke-width="1.1"/>
<text x="114.60" y="534.00" font-size="6.4" text-anchor="middle" fill="#2e2e2e" stroke="#2e2e2e" stroke-width="0.12" transform="rotate(-45 114.60 532.10)">20</text>
<polyline points="39.20,522.30 42.91,497.70 46.62,499.74 50.33,500.34 54.04,501.18 57.75,501.18 61.46,502.74 65.17,503.10 68.88,503.82 72.59,504.30 76.30,505.38 80.01,505.50 83.72,505.86 87.43,506.46 91.14,507.06 94.85,507.30 98.56,508.02 102.27,508.86 105.98,507.66 109.69,509.22 113.40,507.66" fill="none" stroke="#9fb8cc" stroke-width="0.8"/>
<circle cx="42.91" cy="497.70" r="1.35" fill="#1c2c4c"/>
<circle cx="46.62" cy="499.74" r="1.35" fill="#1c2c4c"/>
<circle cx="50.33" cy="500.34" r="1.35" fill="#1c2c4c"/>
<circle cx="54.04" cy="501.18" r="1.35" fill="#1c2c4c"/>
<circle cx="57.75" cy="501.18" r="1.35" fill="#1c2c4c"/>
<circle cx="61.46" cy="502.74" r="1.35" fill="#1c2c4c"/>
<circle cx="65.17" cy="503.10" r="1.35" fill="#1c2c4c"/>
<circle cx="68.88" cy="503.82" r="1.35" fill="#1c2c4c"/>
<circle cx="72.59" cy="504.30" r="1.35" fill="#1c2c4c"/>
<circle cx="76.30" cy="505.38" r="1.35" fill="#1c2c4c"/>
<circle cx="80.01" cy="505.50" r="1.35" fill="#1c2c4c"/>
<circle cx="83.72" cy="505.86" r="1.35" fill="#1c2c4c"/>
<circle cx="87.43" cy="506.46" r="1.35" fill="#1c2c4c"/>
<circle cx="91.14" cy="507.06" r="1.35" fill="#1c2c4c"/>
<circle cx="94.85" cy="507.30" r="1.35" fill="#1c2c4c"/>
<circle cx="98.56" cy="508.02" r="1.35" fill="#1c2c4c"/>
<circle cx="102.27" cy="508.86" r="1.35" fill="#1c2c4c"/>
<circle cx="105.98" cy="507.66" r="1.35" fill="#1c2c4c"/>
<circle cx="109.69" cy="509.22" r="1.35" fill="#1c2c4c"/>
<circle cx="113.40" cy="507.66" r="1.35" fill="#1c2c4c"/>
<polyline points="39.20,522.30 42.91,510.30 46.62,510.30 50.33,510.30 54.04,510.30 57.75,510.30 61.46,510.30 65.17,510.30 68.88,510.30 72.59,510.30 76.30,510.30 80.01,510.30 83.72,510.30 87.43,510.30 91.14,510.30 94.85,510.30 98.56,510.30 102.27,510.30 105.98,510.30 109.69,510.30 113.40,510.30" fill="none" stroke="#8a93a0" stroke-width="0.7"/>
<circle cx="42.91" cy="510.30" r="1.0" fill="#1f2a3d"/>
<circle cx="46.62" cy="510.30" r="1.0" fill="#1f2a3d"/>
<circle cx="50.33" cy="510.30" r="1.0" fill="#1f2a3d"/>
<circle cx="54.04" cy="510.30" r="1.0" fill="#1f2a3d"/>
<circle cx="57.75" cy="510.30" r="1.0" fill="#1f2a3d"/>
<circle cx="61.46" cy="510.30" r="1.0" fill="#1f2a3d"/>
<circle cx="65.17" cy="510.30" r="1.0" fill="#1f2a3d"/>
<circle cx="68.88" cy="510.30" r="1.0" fill="#1f2a3d"/>
<circle cx="72.59" cy="510.30" r="1.0" fill="#1f2a3d"/>
<circle cx="76.30" cy="510.30" r="1.0" fill="#1f2a3d"/>
<circle cx="80.01" cy="510.30" r="1.0" fill="#1f2a3d"/>
<circle cx="83.72" cy="510.30" r="1.0" fill="#1f2a3d"/>
<circle cx="87.43" cy="510.30" r="1.0" fill="#1f2a3d"/>
<circle cx="91.14" cy="510.30" r="1.0" fill="#1f2a3d"/>
<circle cx="94.85" cy="510.30" r="1.0" fill="#1f2a3d"/>
<circle cx="98.56" cy="510.30" r="1.0" fill="#1f2a3d"/>
<circle cx="102.27" cy="510.30" r="1.0" fill="#1f2a3d"/>
<circle cx="105.98" cy="510.30" r="1.0" fill="#1f2a3d"/>
<circle cx="109.69" cy="510.30" r="1.0" fill="#1f2a3d"/>
<circle cx="113.40" cy="510.30" r="1.0" fill="#1f2a3d"/>
<line x1="119.60" y1="474.40" x2="124.20" y2="474.40" stroke="#1d2a44" stroke-width="0.8"/>
<circle cx="121.90" cy="474.40" r="1.0" fill="#1d2a44"/>
<text x="127.50" y="477.00" font-size="6.4" text-anchor="start" fill="#2e2e2e" stroke="#2e2e2e" stroke-width="0.08" >WT</text>
<line x1="119.60" y1="484.60" x2="124.20" y2="484.60" stroke="#1f3e66" stroke-width="0.8"/>
<circle cx="121.90" cy="484.60" r="1.0" fill="#1f3e66"/>
<text x="127.50" y="487.20" font-size="6.4" text-anchor="start" fill="#2e2e2e" stroke="#2e2e2e" stroke-width="0.08" >gp91<tspan font-size="4.7" dy="-2.5" fill="#666" stroke="none">phox-/-</tspan></text>
<text x="127.50" y="495.40" font-size="6.4" text-anchor="start" fill="#2e2e2e" stroke="#2e2e2e" stroke-width="0.08" >(IRCM)</text>
<text x="77.60" y="549.00" font-size="7.2" text-anchor="middle" fill="#2e2e2e" stroke="#2e2e2e" stroke-width="0.15" textLength="45.5" lengthAdjust="spacingAndGlyphs" >Time (minutes)</text>
<text x="14.20" y="497.90" font-size="8.0" text-anchor="middle" fill="#2e2e2e" stroke="#2e2e2e" stroke-width="0.2" textLength="10.5" lengthAdjust="spacingAndGlyphs" transform="rotate(-90 14.20 497.90)" >RLU</text>
<text x="23.40" y="497.90" font-size="7.4" text-anchor="middle" fill="#2e2e2e" stroke="#2e2e2e" stroke-width="0.2" textLength="45" lengthAdjust="spacingAndGlyphs" transform="rotate(-90 23.40 497.90)" >(relative to WT)</text>
<text x="254.00" y="26.30" font-size="8.5" text-anchor="middle" fill="#2e2e2e" stroke="#2e2e2e" stroke-width="0.1" font-style="italic" >Nox1</text>
<rect x="228.50" y="75.20" width="19.60" height="9.40" fill="#4a586e"/>
<circle cx="231.30" cy="75.00" r="1.05" fill="#111"/>
<circle cx="235.80" cy="75.00" r="1.05" fill="#111"/>
<circle cx="240.30" cy="75.00" r="1.05" fill="#111"/>
<circle cx="244.80" cy="75.00" r="1.05" fill="#111"/>
<rect x="259.30" y="56.40" width="19.60" height="28.20" fill="#2c9fda"/>
<rect x="259.30" y="41.90" width="19.60" height="10.80" fill="#2c9fda"/>
<line x1="269.10" y1="41.90" x2="269.10" y2="37.70" stroke="#1a1a1a" stroke-width="1.1"/>
<line x1="264.30" y1="37.70" x2="273.90" y2="37.70" stroke="#1a1a1a" stroke-width="1.2"/>
<line x1="264.30" y1="41.60" x2="273.90" y2="41.60" stroke="#1a1a1a" stroke-width="1.2"/>
<circle cx="263.90" cy="38.40" r="0.9" fill="#111"/>
<circle cx="274.10" cy="37.60" r="0.9" fill="#111"/>
<circle cx="263.90" cy="43.20" r="0.9" fill="#111"/>
<circle cx="274.10" cy="41.80" r="0.9" fill="#111"/>
<line x1="217.70" y1="33.00" x2="217.70" y2="52.80" stroke="#2b2b2b" stroke-width="1.35"/>
<line x1="217.70" y1="56.20" x2="217.70" y2="85.30" stroke="#2b2b2b" stroke-width="1.35"/>
<line x1="217.00" y1="84.60" x2="289.20" y2="84.60" stroke="#2b2b2b" stroke-width="1.35"/>
<line x1="215.30" y1="84.60" x2="217.70" y2="84.60" stroke="#2b2b2b" stroke-width="0.9"/>
<text x="211.70" y="86.90" font-size="6.4" text-anchor="end" fill="#2e2e2e" stroke="#2e2e2e" stroke-width="0.1" >0</text>
<line x1="215.30" y1="75.20" x2="217.70" y2="75.20" stroke="#2b2b2b" stroke-width="0.9"/>
<text x="211.70" y="77.50" font-size="6.4" text-anchor="end" fill="#2e2e2e" stroke="#2e2e2e" stroke-width="0.1" >1</text>
<line x1="215.30" y1="65.80" x2="217.70" y2="65.80" stroke="#2b2b2b" stroke-width="0.9"/>
<text x="211.70" y="68.10" font-size="6.4" text-anchor="end" fill="#2e2e2e" stroke="#2e2e2e" stroke-width="0.1" >2</text>
<line x1="215.30" y1="56.40" x2="217.70" y2="56.40" stroke="#2b2b2b" stroke-width="0.9"/>
<text x="211.70" y="58.70" font-size="6.4" text-anchor="end" fill="#2e2e2e" stroke="#2e2e2e" stroke-width="0.1" >3</text>
<line x1="215.30" y1="47.60" x2="217.70" y2="47.60" stroke="#2b2b2b" stroke-width="0.9"/>
<text x="211.70" y="49.90" font-size="6.4" text-anchor="end" fill="#2e2e2e" stroke="#2e2e2e" stroke-width="0.1" >20</text>
<line x1="215.30" y1="37.60" x2="217.70" y2="37.60" stroke="#2b2b2b" stroke-width="0.9"/>
<text x="211.70" y="39.90" font-size="6.4" text-anchor="end" fill="#2e2e2e" stroke="#2e2e2e" stroke-width="0.1" >40</text>
<line x1="238.30" y1="84.60" x2="238.30" y2="87.20" stroke="#2b2b2b" stroke-width="0.9"/>
<line x1="269.10" y1="84.60" x2="269.10" y2="87.20" stroke="#2b2b2b" stroke-width="0.9"/>
<text x="238.30" y="96.10" font-size="6.2" text-anchor="middle" fill="#2e2e2e" stroke="#2e2e2e" stroke-width="0.08" >WT</text>
<text x="268.80" y="96.10" font-size="6.2" text-anchor="middle" fill="#2e2e2e" stroke="#2e2e2e" stroke-width="0.08" >p47<tspan font-size="4.7" dy="-2.5" fill="#666" stroke="none">phox-/-</tspan></text>
<text x="190.10" y="59.30" font-size="8.0" text-anchor="middle" fill="#2e2e2e" stroke="#2e2e2e" stroke-width="0.2" textLength="54.5" lengthAdjust="spacingAndGlyphs" transform="rotate(-90 190.10 59.30)" >mRNA fold change</text>
<text x="199.10" y="59.30" font-size="7.2" text-anchor="middle" fill="#2e2e2e" stroke="#2e2e2e" stroke-width="0.2" textLength="45.5" lengthAdjust="spacingAndGlyphs" transform="rotate(-90 199.10 59.30)" >(relative to WT)</text>
<text x="176.90" y="60.00" font-size="8.0" text-anchor="middle" fill="#2e2e2e" stroke="#2e2e2e" stroke-width="0.3" textLength="14.5" lengthAdjust="spacingAndGlyphs" transform="rotate(-90 176.90 60.00)" >NIH</text>
<line x1="237.70" y1="36.20" x2="268.50" y2="36.20" stroke="#333" stroke-width="1.0"/>
<text x="253.30" y="36.00" font-size="5.2" text-anchor="middle" fill="#333" stroke="#333" stroke-width="0.08" >*</text>
<text x="365.80" y="27.30" font-size="8.5" text-anchor="middle" fill="#2e2e2e" stroke="#2e2e2e" stroke-width="0.1" font-style="italic" >Duox2</text>
<rect x="340.30" y="72.76" width="19.60" height="11.84" fill="#4a586e"/>
<line x1="350.10" y1="72.76" x2="350.10" y2="57.40" stroke="#1a1a1a" stroke-width="1.1"/>
<line x1="345.50" y1="57.40" x2="354.70" y2="57.40" stroke="#1a1a1a" stroke-width="1.2"/>
<circle cx="352.60" cy="71.80" r="1.05" fill="#111"/>
<circle cx="347.10" cy="72.76" r="1.05" fill="#111"/>
<rect x="371.10" y="67.96" width="19.60" height="16.64" fill="#2c9fda"/>
<line x1="380.90" y1="67.96" x2="380.90" y2="63.80" stroke="#1a1a1a" stroke-width="1.1"/>
<line x1="376.30" y1="63.80" x2="385.50" y2="63.80" stroke="#1a1a1a" stroke-width="1.2"/>
<circle cx="377.90" cy="67.80" r="1.05" fill="#111"/>
<circle cx="383.90" cy="67.32" r="1.05" fill="#111"/>
<line x1="329.50" y1="33.50" x2="329.50" y2="85.30" stroke="#2b2b2b" stroke-width="1.35"/>
<line x1="328.80" y1="84.60" x2="401.00" y2="84.60" stroke="#2b2b2b" stroke-width="1.35"/>
<line x1="327.10" y1="84.60" x2="329.50" y2="84.60" stroke="#2b2b2b" stroke-width="0.9"/>
<text x="323.50" y="86.90" font-size="6.4" text-anchor="end" fill="#2e2e2e" stroke="#2e2e2e" stroke-width="0.1" >0</text>
<line x1="327.10" y1="68.60" x2="329.50" y2="68.60" stroke="#2b2b2b" stroke-width="0.9"/>
<text x="323.50" y="70.90" font-size="6.4" text-anchor="end" fill="#2e2e2e" stroke="#2e2e2e" stroke-width="0.1" >1</text>
<line x1="327.10" y1="52.60" x2="329.50" y2="52.60" stroke="#2b2b2b" stroke-width="0.9"/>
<text x="323.50" y="54.90" font-size="6.4" text-anchor="end" fill="#2e2e2e" stroke="#2e2e2e" stroke-width="0.1" >2</text>
<line x1="327.10" y1="36.60" x2="329.50" y2="36.60" stroke="#2b2b2b" stroke-width="0.9"/>
<text x="323.50" y="38.90" font-size="6.4" text-anchor="end" fill="#2e2e2e" stroke="#2e2e2e" stroke-width="0.1" >3</text>
<line x1="350.10" y1="84.60" x2="350.10" y2="87.20" stroke="#2b2b2b" stroke-width="0.9"/>
<line x1="380.90" y1="84.60" x2="380.90" y2="87.20" stroke="#2b2b2b" stroke-width="0.9"/>
<text x="350.10" y="96.10" font-size="6.2" text-anchor="middle" fill="#2e2e2e" stroke="#2e2e2e" stroke-width="0.08" >WT</text>
<text x="380.60" y="96.10" font-size="6.2" text-anchor="middle" fill="#2e2e2e" stroke="#2e2e2e" stroke-width="0.08" >p47<tspan font-size="4.7" dy="-2.5" fill="#666" stroke="none">phox-/-</tspan></text>
<text x="305.50" y="59.05" font-size="8.0" text-anchor="middle" fill="#2e2e2e" stroke="#2e2e2e" stroke-width="0.2" textLength="54.5" lengthAdjust="spacingAndGlyphs" transform="rotate(-90 305.50 59.05)" >mRNA fold change</text>
<text x="314.40" y="59.05" font-size="7.2" text-anchor="middle" fill="#2e2e2e" stroke="#2e2e2e" stroke-width="0.2" textLength="45.5" lengthAdjust="spacingAndGlyphs" transform="rotate(-90 314.40 59.05)" >(relative to WT)</text>
<text x="477.30" y="27.30" font-size="8.5" text-anchor="middle" fill="#2e2e2e" stroke="#2e2e2e" stroke-width="0.1" font-style="italic" >Nox4</text>
<rect x="451.80" y="69.56" width="19.60" height="15.04" fill="#4a586e"/>
<line x1="461.60" y1="69.56" x2="461.60" y2="65.72" stroke="#1a1a1a" stroke-width="1.1"/>
<line x1="457.00" y1="65.72" x2="466.20" y2="65.72" stroke="#1a1a1a" stroke-width="1.2"/>
<circle cx="463.60" cy="68.60" r="1.05" fill="#111"/>
<circle cx="458.60" cy="69.88" r="1.05" fill="#111"/>
<rect x="482.60" y="59.96" width="19.60" height="24.64" fill="#2c9fda"/>
<line x1="492.40" y1="59.96" x2="492.40" y2="57.72" stroke="#1a1a1a" stroke-width="1.1"/>
<line x1="487.80" y1="57.72" x2="497.00" y2="57.72" stroke="#1a1a1a" stroke-width="1.2"/>
<circle cx="489.40" cy="59.80" r="1.05" fill="#111"/>
<circle cx="495.40" cy="59.00" r="1.05" fill="#111"/>
<line x1="441.00" y1="33.50" x2="441.00" y2="85.30" stroke="#2b2b2b" stroke-width="1.35"/>
<line x1="440.30" y1="84.60" x2="512.50" y2="84.60" stroke="#2b2b2b" stroke-width="1.35"/>
<line x1="438.60" y1="84.60" x2="441.00" y2="84.60" stroke="#2b2b2b" stroke-width="0.9"/>
<text x="435.00" y="86.90" font-size="6.4" text-anchor="end" fill="#2e2e2e" stroke="#2e2e2e" stroke-width="0.1" >0</text>
<line x1="438.60" y1="68.60" x2="441.00" y2="68.60" stroke="#2b2b2b" stroke-width="0.9"/>
<text x="435.00" y="70.90" font-size="6.4" text-anchor="end" fill="#2e2e2e" stroke="#2e2e2e" stroke-width="0.1" >1</text>
<line x1="438.60" y1="52.60" x2="441.00" y2="52.60" stroke="#2b2b2b" stroke-width="0.9"/>
<text x="435.00" y="54.90" font-size="6.4" text-anchor="end" fill="#2e2e2e" stroke="#2e2e2e" stroke-width="0.1" >2</text>
<line x1="438.60" y1="36.60" x2="441.00" y2="36.60" stroke="#2b2b2b" stroke-width="0.9"/>
<text x="435.00" y="38.90" font-size="6.4" text-anchor="end" fill="#2e2e2e" stroke="#2e2e2e" stroke-width="0.1" >3</text>
<line x1="461.60" y1="84.60" x2="461.60" y2="87.20" stroke="#2b2b2b" stroke-width="0.9"/>
<line x1="492.40" y1="84.60" x2="492.40" y2="87.20" stroke="#2b2b2b" stroke-width="0.9"/>
<text x="461.60" y="96.10" font-size="6.2" text-anchor="middle" fill="#2e2e2e" stroke="#2e2e2e" stroke-width="0.08" >WT</text>
<text x="492.10" y="96.10" font-size="6.2" text-anchor="middle" fill="#2e2e2e" stroke="#2e2e2e" stroke-width="0.08" >p47<tspan font-size="4.7" dy="-2.5" fill="#666" stroke="none">phox-/-</tspan></text>
<text x="417.90" y="59.05" font-size="8.0" text-anchor="middle" fill="#2e2e2e" stroke="#2e2e2e" stroke-width="0.2" textLength="54.5" lengthAdjust="spacingAndGlyphs" transform="rotate(-90 417.90 59.05)" >mRNA fold change</text>
<text x="426.40" y="59.05" font-size="7.2" text-anchor="middle" fill="#2e2e2e" stroke="#2e2e2e" stroke-width="0.2" textLength="45.5" lengthAdjust="spacingAndGlyphs" transform="rotate(-90 426.40 59.05)" >(relative to WT)</text>
<text x="254.00" y="126.10" font-size="8.5" text-anchor="middle" fill="#2e2e2e" stroke="#2e2e2e" stroke-width="0.1" font-style="italic" >Nox1</text>
<rect x="228.50" y="171.88" width="19.60" height="11.52" fill="#4a586e"/>
<line x1="238.30" y1="171.88" x2="238.30" y2="167.20" stroke="#1a1a1a" stroke-width="1.1"/>
<line x1="233.70" y1="167.20" x2="242.90" y2="167.20" stroke="#1a1a1a" stroke-width="1.2"/>
<circle cx="237.30" cy="167.80" r="1.05" fill="#111"/>
<circle cx="236.30" cy="176.20" r="1.05" fill="#111"/>
<circle cx="238.30" cy="179.80" r="1.05" fill="#111"/>
<circle cx="240.30" cy="172.60" r="1.05" fill="#111"/>
<rect x="259.30" y="165.16" width="19.60" height="18.24" fill="#6a237e"/>
<line x1="269.10" y1="165.16" x2="269.10" y2="148.60" stroke="#1a1a1a" stroke-width="1.1"/>
<line x1="264.50" y1="148.60" x2="273.70" y2="148.60" stroke="#1a1a1a" stroke-width="1.2"/>
<circle cx="269.10" cy="145.00" r="1.05" fill="#111"/>
<circle cx="266.10" cy="165.40" r="1.05" fill="#111"/>
<circle cx="272.10" cy="165.40" r="1.05" fill="#111"/>
<circle cx="269.10" cy="171.40" r="1.05" fill="#111"/>
<line x1="217.70" y1="131.50" x2="217.70" y2="184.10" stroke="#2b2b2b" stroke-width="1.35"/>
<line x1="217.00" y1="183.40" x2="289.20" y2="183.40" stroke="#2b2b2b" stroke-width="1.35"/>
<line x1="215.30" y1="183.40" x2="217.70" y2="183.40" stroke="#2b2b2b" stroke-width="0.9"/>
<text x="211.70" y="185.70" font-size="6.4" text-anchor="end" fill="#2e2e2e" stroke="#2e2e2e" stroke-width="0.1" >0</text>
<line x1="215.30" y1="171.40" x2="217.70" y2="171.40" stroke="#2b2b2b" stroke-width="0.9"/>
<text x="211.70" y="173.70" font-size="6.4" text-anchor="end" fill="#2e2e2e" stroke="#2e2e2e" stroke-width="0.1" >1</text>
<line x1="215.30" y1="159.40" x2="217.70" y2="159.40" stroke="#2b2b2b" stroke-width="0.9"/>
<text x="211.70" y="161.70" font-size="6.4" text-anchor="end" fill="#2e2e2e" stroke="#2e2e2e" stroke-width="0.1" >2</text>
<line x1="215.30" y1="147.40" x2="217.70" y2="147.40" stroke="#2b2b2b" stroke-width="0.9"/>
<text x="211.70" y="149.70" font-size="6.4" text-anchor="end" fill="#2e2e2e" stroke="#2e2e2e" stroke-width="0.1" >3</text>
<line x1="215.30" y1="135.40" x2="217.70" y2="135.40" stroke="#2b2b2b" stroke-width="0.9"/>
<text x="211.70" y="137.70" font-size="6.4" text-anchor="end" fill="#2e2e2e" stroke="#2e2e2e" stroke-width="0.1" >4</text>
<line x1="238.30" y1="183.40" x2="238.30" y2="186.00" stroke="#2b2b2b" stroke-width="0.9"/>
<line x1="269.10" y1="183.40" x2="269.10" y2="186.00" stroke="#2b2b2b" stroke-width="0.9"/>
<text x="238.30" y="194.90" font-size="6.2" text-anchor="middle" fill="#2e2e2e" stroke="#2e2e2e" stroke-width="0.08" >WT</text>
<text x="268.80" y="194.90" font-size="6.2" text-anchor="middle" fill="#2e2e2e" stroke="#2e2e2e" stroke-width="0.08" >p47<tspan font-size="4.7" dy="-2.5" fill="#666" stroke="none">phox-/-</tspan></text>
<text x="192.40" y="157.45" font-size="8.0" text-anchor="middle" fill="#2e2e2e" stroke="#2e2e2e" stroke-width="0.2" textLength="54.5" lengthAdjust="spacingAndGlyphs" transform="rotate(-90 192.40 157.45)" >mRNA fold change</text>
<text x="202.40" y="157.45" font-size="7.2" text-anchor="middle" fill="#2e2e2e" stroke="#2e2e2e" stroke-width="0.2" textLength="45.5" lengthAdjust="spacingAndGlyphs" transform="rotate(-90 202.40 157.45)" >(relative to WT)</text>
<text x="180.30" y="158.00" font-size="8.3" text-anchor="middle" fill="#2e2e2e" stroke="#2e2e2e" stroke-width="0.3" textLength="20.5" lengthAdjust="spacingAndGlyphs" transform="rotate(-90 180.30 158.00)" >IRCM</text>
<line x1="238.20" y1="137.20" x2="269.10" y2="137.20" stroke="#333" stroke-width="1.0"/>
<text x="253.95" y="137.00" font-size="5.2" text-anchor="middle" fill="#333" stroke="#333" stroke-width="0.08" >*</text>
<text x="365.80" y="126.30" font-size="8.5" text-anchor="middle" fill="#2e2e2e" stroke="#2e2e2e" stroke-width="0.1" font-style="italic" >Duox2</text>
<rect x="340.30" y="166.28" width="19.60" height="17.12" fill="#4a586e"/>
<line x1="350.10" y1="166.28" x2="350.10" y2="163.40" stroke="#1a1a1a" stroke-width="1.1"/>
<line x1="345.50" y1="163.40" x2="354.70" y2="163.40" stroke="#1a1a1a" stroke-width="1.2"/>
<circle cx="348.10" cy="164.20" r="1.05" fill="#111"/>
<circle cx="353.10" cy="165.00" r="1.05" fill="#111"/>
<circle cx="350.10" cy="173.80" r="1.05" fill="#111"/>
<circle cx="351.10" cy="167.40" r="1.05" fill="#111"/>
<rect x="371.10" y="163.40" width="19.60" height="20.00" fill="#6a237e"/>
<line x1="380.90" y1="163.40" x2="380.90" y2="157.16" stroke="#1a1a1a" stroke-width="1.1"/>
<line x1="376.30" y1="157.16" x2="385.50" y2="157.16" stroke="#1a1a1a" stroke-width="1.2"/>
<circle cx="380.90" cy="153.00" r="1.05" fill="#111"/>
<circle cx="377.90" cy="163.40" r="1.05" fill="#111"/>
<circle cx="383.90" cy="160.20" r="1.05" fill="#111"/>
<line x1="329.50" y1="132.30" x2="329.50" y2="184.10" stroke="#2b2b2b" stroke-width="1.35"/>
<line x1="328.80" y1="183.40" x2="401.00" y2="183.40" stroke="#2b2b2b" stroke-width="1.35"/>
<line x1="327.10" y1="183.40" x2="329.50" y2="183.40" stroke="#2b2b2b" stroke-width="0.9"/>
<text x="323.50" y="185.70" font-size="6.4" text-anchor="end" fill="#2e2e2e" stroke="#2e2e2e" stroke-width="0.1" >0</text>
<line x1="327.10" y1="167.40" x2="329.50" y2="167.40" stroke="#2b2b2b" stroke-width="0.9"/>
<text x="323.50" y="169.70" font-size="6.4" text-anchor="end" fill="#2e2e2e" stroke="#2e2e2e" stroke-width="0.1" >1</text>
<line x1="327.10" y1="151.40" x2="329.50" y2="151.40" stroke="#2b2b2b" stroke-width="0.9"/>
<text x="323.50" y="153.70" font-size="6.4" text-anchor="end" fill="#2e2e2e" stroke="#2e2e2e" stroke-width="0.1" >2</text>
<line x1="327.10" y1="135.40" x2="329.50" y2="135.40" stroke="#2b2b2b" stroke-width="0.9"/>
<text x="323.50" y="137.70" font-size="6.4" text-anchor="end" fill="#2e2e2e" stroke="#2e2e2e" stroke-width="0.1" >3</text>
<line x1="350.10" y1="183.40" x2="350.10" y2="186.00" stroke="#2b2b2b" stroke-width="0.9"/>
<line x1="380.90" y1="183.40" x2="380.90" y2="186.00" stroke="#2b2b2b" stroke-width="0.9"/>
<text x="350.10" y="194.90" font-size="6.2" text-anchor="middle" fill="#2e2e2e" stroke="#2e2e2e" stroke-width="0.08" >WT</text>
<text x="380.60" y="194.90" font-size="6.2" text-anchor="middle" fill="#2e2e2e" stroke="#2e2e2e" stroke-width="0.08" >p47<tspan font-size="4.7" dy="-2.5" fill="#666" stroke="none">phox-/-</tspan></text>
<text x="305.50" y="157.85" font-size="8.0" text-anchor="middle" fill="#2e2e2e" stroke="#2e2e2e" stroke-width="0.2" textLength="54.5" lengthAdjust="spacingAndGlyphs" transform="rotate(-90 305.50 157.85)" >mRNA fold change</text>
<text x="314.40" y="157.85" font-size="7.2" text-anchor="middle" fill="#2e2e2e" stroke="#2e2e2e" stroke-width="0.2" textLength="45.5" lengthAdjust="spacingAndGlyphs" transform="rotate(-90 314.40 157.85)" >(relative to WT)</text>
<text x="477.30" y="126.30" font-size="8.5" text-anchor="middle" fill="#2e2e2e" stroke="#2e2e2e" stroke-width="0.1" font-style="italic" >Nox4</text>
<rect x="451.80" y="167.88" width="19.60" height="15.52" fill="#4a586e"/>
<line x1="461.60" y1="167.88" x2="461.60" y2="164.52" stroke="#1a1a1a" stroke-width="1.1"/>
<line x1="457.00" y1="164.52" x2="466.20" y2="164.52" stroke="#1a1a1a" stroke-width="1.2"/>
<circle cx="456.60" cy="165.00" r="1.05" fill="#111"/>
<circle cx="466.60" cy="164.20" r="1.05" fill="#111"/>
<circle cx="461.60" cy="170.60" r="1.05" fill="#111"/>
<circle cx="463.60" cy="168.20" r="1.05" fill="#111"/>
<rect x="482.60" y="167.56" width="19.60" height="15.84" fill="#6a237e"/>
<line x1="492.40" y1="167.56" x2="492.40" y2="167.08" stroke="#1a1a1a" stroke-width="1.1"/>
<line x1="487.80" y1="167.08" x2="497.00" y2="167.08" stroke="#1a1a1a" stroke-width="1.2"/>
<circle cx="486.40" cy="167.08" r="1.05" fill="#111"/>
<circle cx="498.40" cy="167.40" r="1.05" fill="#111"/>
<line x1="441.00" y1="131.50" x2="441.00" y2="184.10" stroke="#2b2b2b" stroke-width="1.35"/>
<line x1="440.30" y1="183.40" x2="512.50" y2="183.40" stroke="#2b2b2b" stroke-width="1.35"/>
<line x1="438.60" y1="183.40" x2="441.00" y2="183.40" stroke="#2b2b2b" stroke-width="0.9"/>
<text x="435.00" y="185.70" font-size="6.4" text-anchor="end" fill="#2e2e2e" stroke="#2e2e2e" stroke-width="0.1" >0</text>
<line x1="438.60" y1="167.40" x2="441.00" y2="167.40" stroke="#2b2b2b" stroke-width="0.9"/>
<text x="435.00" y="169.70" font-size="6.4" text-anchor="end" fill="#2e2e2e" stroke="#2e2e2e" stroke-width="0.1" >1</text>
<line x1="438.60" y1="151.40" x2="441.00" y2="151.40" stroke="#2b2b2b" stroke-width="0.9"/>
<text x="435.00" y="153.70" font-size="6.4" text-anchor="end" fill="#2e2e2e" stroke="#2e2e2e" stroke-width="0.1" >2</text>
<line x1="438.60" y1="135.40" x2="441.00" y2="135.40" stroke="#2b2b2b" stroke-width="0.9"/>
<text x="435.00" y="137.70" font-size="6.4" text-anchor="end" fill="#2e2e2e" stroke="#2e2e2e" stroke-width="0.1" >3</text>
<line x1="461.60" y1="183.40" x2="461.60" y2="186.00" stroke="#2b2b2b" stroke-width="0.9"/>
<line x1="492.40" y1="183.40" x2="492.40" y2="186.00" stroke="#2b2b2b" stroke-width="0.9"/>
<text x="461.60" y="194.90" font-size="6.2" text-anchor="middle" fill="#2e2e2e" stroke="#2e2e2e" stroke-width="0.08" >WT</text>
<text x="492.10" y="194.90" font-size="6.2" text-anchor="middle" fill="#2e2e2e" stroke="#2e2e2e" stroke-width="0.08" >p47<tspan font-size="4.7" dy="-2.5" fill="#666" stroke="none">phox-/-</tspan></text>
<text x="417.90" y="157.45" font-size="8.0" text-anchor="middle" fill="#2e2e2e" stroke="#2e2e2e" stroke-width="0.2" textLength="54.5" lengthAdjust="spacingAndGlyphs" transform="rotate(-90 417.90 157.45)" >mRNA fold change</text>
<text x="426.40" y="157.45" font-size="7.2" text-anchor="middle" fill="#2e2e2e" stroke="#2e2e2e" stroke-width="0.2" textLength="45.5" lengthAdjust="spacingAndGlyphs" transform="rotate(-90 426.40 157.45)" >(relative to WT)</text>
<text x="254.00" y="246.80" font-size="8.5" text-anchor="middle" fill="#2e2e2e" stroke="#2e2e2e" stroke-width="0.1" font-style="italic" >Nox1</text>
<rect x="228.50" y="294.08" width="19.60" height="11.52" fill="#4a586e"/>
<circle cx="231.30" cy="293.84" r="1.05" fill="#111"/>
<circle cx="235.80" cy="293.84" r="1.05" fill="#111"/>
<circle cx="240.30" cy="293.84" r="1.05" fill="#111"/>
<circle cx="244.80" cy="293.84" r="1.05" fill="#111"/>
<rect x="259.30" y="285.68" width="19.60" height="19.92" fill="#2c9fda"/>
<line x1="269.10" y1="291.20" x2="269.10" y2="268.64" stroke="#1a1a1a" stroke-width="1.1"/>
<line x1="264.50" y1="268.64" x2="273.70" y2="268.64" stroke="#1a1a1a" stroke-width="1.2"/>
<line x1="264.50" y1="291.20" x2="273.70" y2="291.20" stroke="#1a1a1a" stroke-width="1.2"/>
<circle cx="269.10" cy="268.64" r="1.05" fill="#111"/>
<circle cx="269.10" cy="291.20" r="1.05" fill="#111"/>
<circle cx="269.10" cy="285.68" r="1.05" fill="#111"/>
<line x1="217.70" y1="255.00" x2="217.70" y2="306.30" stroke="#2b2b2b" stroke-width="1.35"/>
<line x1="217.00" y1="305.60" x2="289.20" y2="305.60" stroke="#2b2b2b" stroke-width="1.35"/>
<line x1="215.30" y1="305.60" x2="217.70" y2="305.60" stroke="#2b2b2b" stroke-width="0.9"/>
<text x="211.70" y="307.90" font-size="6.4" text-anchor="end" fill="#2e2e2e" stroke="#2e2e2e" stroke-width="0.1" >0</text>
<line x1="215.30" y1="293.60" x2="217.70" y2="293.60" stroke="#2b2b2b" stroke-width="0.9"/>
<text x="211.70" y="295.90" font-size="6.4" text-anchor="end" fill="#2e2e2e" stroke="#2e2e2e" stroke-width="0.1" >1</text>
<line x1="215.30" y1="281.60" x2="217.70" y2="281.60" stroke="#2b2b2b" stroke-width="0.9"/>
<text x="211.70" y="283.90" font-size="6.4" text-anchor="end" fill="#2e2e2e" stroke="#2e2e2e" stroke-width="0.1" >2</text>
<line x1="215.30" y1="269.60" x2="217.70" y2="269.60" stroke="#2b2b2b" stroke-width="0.9"/>
<text x="211.70" y="271.90" font-size="6.4" text-anchor="end" fill="#2e2e2e" stroke="#2e2e2e" stroke-width="0.1" >3</text>
<line x1="215.30" y1="257.60" x2="217.70" y2="257.60" stroke="#2b2b2b" stroke-width="0.9"/>
<text x="211.70" y="259.90" font-size="6.4" text-anchor="end" fill="#2e2e2e" stroke="#2e2e2e" stroke-width="0.1" >4</text>
<line x1="238.30" y1="305.60" x2="238.30" y2="308.20" stroke="#2b2b2b" stroke-width="0.9"/>
<line x1="269.10" y1="305.60" x2="269.10" y2="308.20" stroke="#2b2b2b" stroke-width="0.9"/>
<text x="238.30" y="317.10" font-size="6.2" text-anchor="middle" fill="#2e2e2e" stroke="#2e2e2e" stroke-width="0.08" >WT</text>
<text x="269.10" y="317.10" font-size="6.2" text-anchor="middle" fill="#2e2e2e" stroke="#2e2e2e" stroke-width="0.08" >WT</text>
<text x="192.40" y="280.30" font-size="8.0" text-anchor="middle" fill="#2e2e2e" stroke="#2e2e2e" stroke-width="0.2" textLength="54.5" lengthAdjust="spacingAndGlyphs" transform="rotate(-90 192.40 280.30)" >mRNA fold change</text>
<text x="202.40" y="280.30" font-size="7.2" text-anchor="middle" fill="#2e2e2e" stroke="#2e2e2e" stroke-width="0.2" textLength="45.5" lengthAdjust="spacingAndGlyphs" transform="rotate(-90 202.40 280.30)" >(relative to WT)</text>
<text x="179.80" y="280.00" font-size="8.3" text-anchor="middle" fill="#2e2e2e" stroke="#2e2e2e" stroke-width="0.3" textLength="14.5" lengthAdjust="spacingAndGlyphs" transform="rotate(-90 179.80 280.00)" >NIH</text>
<line x1="236.80" y1="257.10" x2="269.10" y2="257.10" stroke="#333" stroke-width="1.0"/>
<text x="253.25" y="256.90" font-size="5.2" text-anchor="middle" fill="#333" stroke="#333" stroke-width="0.08" >*</text>
<text x="270.00" y="324.50" font-size="6.6" text-anchor="middle" fill="#2e2e2e" stroke="#2e2e2e" stroke-width="0.08">(CF p47<tspan font-size="4.7" dy="-2.5" fill="#666" stroke="none">phox-/-</tspan>)</text>
<text x="365.80" y="247.10" font-size="8.5" text-anchor="middle" fill="#2e2e2e" stroke="#2e2e2e" stroke-width="0.1" font-style="italic" >Duox2</text>
<rect x="340.30" y="293.60" width="19.60" height="12.00" fill="#4a586e"/>
<line x1="350.10" y1="293.60" x2="350.10" y2="278.40" stroke="#1a1a1a" stroke-width="1.1"/>
<line x1="345.50" y1="278.40" x2="354.70" y2="278.40" stroke="#1a1a1a" stroke-width="1.2"/>
<circle cx="352.10" cy="292.80" r="1.05" fill="#111"/>
<circle cx="347.10" cy="293.60" r="1.05" fill="#111"/>
<line x1="380.90" y1="305.28" x2="380.90" y2="286.40" stroke="#1a1a1a" stroke-width="1.1"/>
<line x1="376.30" y1="286.40" x2="385.50" y2="286.40" stroke="#1a1a1a" stroke-width="1.2"/>
<line x1="376.30" y1="305.28" x2="385.50" y2="305.28" stroke="#1a1a1a" stroke-width="1.2"/>
<circle cx="378.90" cy="304.80" r="1.05" fill="#111"/>
<circle cx="382.90" cy="304.80" r="1.05" fill="#111"/>
<line x1="329.50" y1="255.50" x2="329.50" y2="306.30" stroke="#2b2b2b" stroke-width="1.35"/>
<line x1="328.80" y1="305.60" x2="401.00" y2="305.60" stroke="#2b2b2b" stroke-width="1.35"/>
<line x1="327.10" y1="305.60" x2="329.50" y2="305.60" stroke="#2b2b2b" stroke-width="0.9"/>
<text x="323.50" y="307.90" font-size="6.4" text-anchor="end" fill="#2e2e2e" stroke="#2e2e2e" stroke-width="0.1" >0</text>
<line x1="327.10" y1="289.60" x2="329.50" y2="289.60" stroke="#2b2b2b" stroke-width="0.9"/>
<text x="323.50" y="291.90" font-size="6.4" text-anchor="end" fill="#2e2e2e" stroke="#2e2e2e" stroke-width="0.1" >1</text>
<line x1="327.10" y1="273.60" x2="329.50" y2="273.60" stroke="#2b2b2b" stroke-width="0.9"/>
<text x="323.50" y="275.90" font-size="6.4" text-anchor="end" fill="#2e2e2e" stroke="#2e2e2e" stroke-width="0.1" >2</text>
<line x1="327.10" y1="257.60" x2="329.50" y2="257.60" stroke="#2b2b2b" stroke-width="0.9"/>
<text x="323.50" y="259.90" font-size="6.4" text-anchor="end" fill="#2e2e2e" stroke="#2e2e2e" stroke-width="0.1" >3</text>
<line x1="350.10" y1="305.60" x2="350.10" y2="308.20" stroke="#2b2b2b" stroke-width="0.9"/>
<line x1="380.90" y1="305.60" x2="380.90" y2="308.20" stroke="#2b2b2b" stroke-width="0.9"/>
<text x="350.10" y="317.10" font-size="6.2" text-anchor="middle" fill="#2e2e2e" stroke="#2e2e2e" stroke-width="0.08" >WT</text>
<text x="380.90" y="317.10" font-size="6.2" text-anchor="middle" fill="#2e2e2e" stroke="#2e2e2e" stroke-width="0.08" >WT</text>
<text x="305.50" y="280.55" font-size="8.0" text-anchor="middle" fill="#2e2e2e" stroke="#2e2e2e" stroke-width="0.2" textLength="54.5" lengthAdjust="spacingAndGlyphs" transform="rotate(-90 305.50 280.55)" >mRNA fold change</text>
<text x="314.40" y="280.55" font-size="7.2" text-anchor="middle" fill="#2e2e2e" stroke="#2e2e2e" stroke-width="0.2" textLength="45.5" lengthAdjust="spacingAndGlyphs" transform="rotate(-90 314.40 280.55)" >(relative to WT)</text>
<text x="381.80" y="324.50" font-size="6.6" text-anchor="middle" fill="#2e2e2e" stroke="#2e2e2e" stroke-width="0.08">(CF p47<tspan font-size="4.7" dy="-2.5" fill="#666" stroke="none">phox-/-</tspan>)</text>
<text x="477.30" y="247.10" font-size="8.5" text-anchor="middle" fill="#2e2e2e" stroke="#2e2e2e" stroke-width="0.1" font-style="italic" >Nox4</text>
<rect x="451.80" y="289.92" width="19.60" height="15.68" fill="#4a586e"/>
<line x1="461.60" y1="289.92" x2="461.60" y2="286.40" stroke="#1a1a1a" stroke-width="1.1"/>
<line x1="457.00" y1="286.40" x2="466.20" y2="286.40" stroke="#1a1a1a" stroke-width="1.2"/>
<circle cx="463.60" cy="289.60" r="1.05" fill="#111"/>
<circle cx="458.60" cy="290.40" r="1.05" fill="#111"/>
<rect x="482.60" y="281.92" width="19.60" height="23.68" fill="#2c9fda"/>
<line x1="492.40" y1="305.60" x2="492.40" y2="278.40" stroke="#1a1a1a" stroke-width="1.1"/>
<line x1="487.80" y1="278.40" x2="497.00" y2="278.40" stroke="#1a1a1a" stroke-width="1.2"/>
<line x1="487.80" y1="305.60" x2="497.00" y2="305.60" stroke="#1a1a1a" stroke-width="1.2"/>
<circle cx="492.40" cy="278.40" r="1.05" fill="#111"/>
<line x1="441.00" y1="255.50" x2="441.00" y2="306.30" stroke="#2b2b2b" stroke-width="1.35"/>
<line x1="440.30" y1="305.60" x2="512.50" y2="305.60" stroke="#2b2b2b" stroke-width="1.35"/>
<line x1="438.60" y1="305.60" x2="441.00" y2="305.60" stroke="#2b2b2b" stroke-width="0.9"/>
<text x="435.00" y="307.90" font-size="6.4" text-anchor="end" fill="#2e2e2e" stroke="#2e2e2e" stroke-width="0.1" >0</text>
<line x1="438.60" y1="289.60" x2="441.00" y2="289.60" stroke="#2b2b2b" stroke-width="0.9"/>
<text x="435.00" y="291.90" font-size="6.4" text-anchor="end" fill="#2e2e2e" stroke="#2e2e2e" stroke-width="0.1" >1</text>
<line x1="438.60" y1="273.60" x2="441.00" y2="273.60" stroke="#2b2b2b" stroke-width="0.9"/>
<text x="435.00" y="275.90" font-size="6.4" text-anchor="end" fill="#2e2e2e" stroke="#2e2e2e" stroke-width="0.1" >2</text>
<line x1="438.60" y1="257.60" x2="441.00" y2="257.60" stroke="#2b2b2b" stroke-width="0.9"/>
<text x="435.00" y="259.90" font-size="6.4" text-anchor="end" fill="#2e2e2e" stroke="#2e2e2e" stroke-width="0.1" >3</text>
<line x1="461.60" y1="305.60" x2="461.60" y2="308.20" stroke="#2b2b2b" stroke-width="0.9"/>
<line x1="492.40" y1="305.60" x2="492.40" y2="308.20" stroke="#2b2b2b" stroke-width="0.9"/>
<text x="461.60" y="317.10" font-size="6.2" text-anchor="middle" fill="#2e2e2e" stroke="#2e2e2e" stroke-width="0.08" >WT</text>
<text x="492.40" y="317.10" font-size="6.2" text-anchor="middle" fill="#2e2e2e" stroke="#2e2e2e" stroke-width="0.08" >WT</text>
<text x="417.90" y="280.55" font-size="8.0" text-anchor="middle" fill="#2e2e2e" stroke="#2e2e2e" stroke-width="0.2" textLength="54.5" lengthAdjust="spacingAndGlyphs" transform="rotate(-90 417.90 280.55)" >mRNA fold change</text>
<text x="426.40" y="280.55" font-size="7.2" text-anchor="middle" fill="#2e2e2e" stroke="#2e2e2e" stroke-width="0.2" textLength="45.5" lengthAdjust="spacingAndGlyphs" transform="rotate(-90 426.40 280.55)" >(relative to WT)</text>
<text x="493.30" y="324.50" font-size="6.6" text-anchor="middle" fill="#2e2e2e" stroke="#2e2e2e" stroke-width="0.08">(CF p47<tspan font-size="4.7" dy="-2.5" fill="#666" stroke="none">phox-/-</tspan>)</text>
<text x="254.00" y="367.50" font-size="8.5" text-anchor="middle" fill="#2e2e2e" stroke="#2e2e2e" stroke-width="0.1" font-style="italic" >Nox1</text>
<rect x="228.50" y="409.08" width="19.60" height="15.52" fill="#4a586e"/>
<circle cx="231.30" cy="408.60" r="1.05" fill="#111"/>
<circle cx="235.80" cy="408.60" r="1.05" fill="#111"/>
<circle cx="240.30" cy="408.60" r="1.05" fill="#111"/>
<circle cx="244.80" cy="408.60" r="1.05" fill="#111"/>
<rect x="259.30" y="407.80" width="19.60" height="16.80" fill="#cf0a2a"/>
<line x1="269.10" y1="413.40" x2="269.10" y2="392.60" stroke="#1a1a1a" stroke-width="1.1"/>
<line x1="264.50" y1="392.60" x2="273.70" y2="392.60" stroke="#1a1a1a" stroke-width="1.2"/>
<line x1="264.50" y1="413.40" x2="273.70" y2="413.40" stroke="#1a1a1a" stroke-width="1.2"/>
<circle cx="269.10" cy="392.60" r="1.05" fill="#111"/>
<circle cx="269.10" cy="413.40" r="1.05" fill="#111"/>
<circle cx="269.10" cy="407.80" r="1.05" fill="#111"/>
<line x1="217.70" y1="374.60" x2="217.70" y2="425.30" stroke="#2b2b2b" stroke-width="1.35"/>
<line x1="217.00" y1="424.60" x2="289.20" y2="424.60" stroke="#2b2b2b" stroke-width="1.35"/>
<line x1="215.30" y1="424.60" x2="217.70" y2="424.60" stroke="#2b2b2b" stroke-width="0.9"/>
<text x="211.70" y="426.90" font-size="6.4" text-anchor="end" fill="#2e2e2e" stroke="#2e2e2e" stroke-width="0.1" >0</text>
<line x1="215.30" y1="408.60" x2="217.70" y2="408.60" stroke="#2b2b2b" stroke-width="0.9"/>
<text x="211.70" y="410.90" font-size="6.4" text-anchor="end" fill="#2e2e2e" stroke="#2e2e2e" stroke-width="0.1" >1</text>
<line x1="215.30" y1="392.60" x2="217.70" y2="392.60" stroke="#2b2b2b" stroke-width="0.9"/>
<text x="211.70" y="394.90" font-size="6.4" text-anchor="end" fill="#2e2e2e" stroke="#2e2e2e" stroke-width="0.1" >2</text>
<line x1="215.30" y1="376.60" x2="217.70" y2="376.60" stroke="#2b2b2b" stroke-width="0.9"/>
<text x="211.70" y="378.90" font-size="6.4" text-anchor="end" fill="#2e2e2e" stroke="#2e2e2e" stroke-width="0.1" >3</text>
<line x1="238.30" y1="424.60" x2="238.30" y2="427.20" stroke="#2b2b2b" stroke-width="0.9"/>
<line x1="269.10" y1="424.60" x2="269.10" y2="427.20" stroke="#2b2b2b" stroke-width="0.9"/>
<text x="238.30" y="436.10" font-size="6.2" text-anchor="middle" fill="#2e2e2e" stroke="#2e2e2e" stroke-width="0.08" >WT</text>
<text x="268.80" y="436.10" font-size="6.2" text-anchor="middle" fill="#2e2e2e" stroke="#2e2e2e" stroke-width="0.08" >gp91<tspan font-size="4.7" dy="-2.5" fill="#666" stroke="none">phox-/-</tspan></text>
<text x="192.40" y="399.60" font-size="8.0" text-anchor="middle" fill="#2e2e2e" stroke="#2e2e2e" stroke-width="0.2" textLength="54.5" lengthAdjust="spacingAndGlyphs" transform="rotate(-90 192.40 399.60)" >mRNA fold change</text>
<text x="202.40" y="399.60" font-size="7.2" text-anchor="middle" fill="#2e2e2e" stroke="#2e2e2e" stroke-width="0.2" textLength="45.5" lengthAdjust="spacingAndGlyphs" transform="rotate(-90 202.40 399.60)" >(relative to WT)</text>
<text x="177.30" y="399.50" font-size="8.3" text-anchor="middle" fill="#2e2e2e" stroke="#2e2e2e" stroke-width="0.3" textLength="15" lengthAdjust="spacingAndGlyphs" transform="rotate(-90 177.30 399.50)" >NIH</text>
<text x="365.80" y="367.50" font-size="8.5" text-anchor="middle" fill="#2e2e2e" stroke="#2e2e2e" stroke-width="0.1" font-style="italic" >Duox2</text>
<rect x="340.30" y="412.44" width="19.60" height="12.16" fill="#4a586e"/>
<line x1="350.10" y1="412.44" x2="350.10" y2="395.96" stroke="#1a1a1a" stroke-width="1.1"/>
<line x1="345.50" y1="395.96" x2="354.70" y2="395.96" stroke="#1a1a1a" stroke-width="1.2"/>
<circle cx="352.10" cy="411.48" r="1.05" fill="#111"/>
<circle cx="347.10" cy="412.44" r="1.05" fill="#111"/>
<rect x="371.10" y="417.24" width="19.60" height="7.36" fill="#cf0a2a"/>
<line x1="380.90" y1="417.24" x2="380.90" y2="410.52" stroke="#1a1a1a" stroke-width="1.1"/>
<line x1="376.30" y1="410.52" x2="385.50" y2="410.52" stroke="#1a1a1a" stroke-width="1.2"/>
<circle cx="380.90" cy="421.40" r="1.05" fill="#111"/>
<line x1="329.50" y1="374.60" x2="329.50" y2="425.30" stroke="#2b2b2b" stroke-width="1.35"/>
<line x1="328.80" y1="424.60" x2="401.00" y2="424.60" stroke="#2b2b2b" stroke-width="1.35"/>
<line x1="327.10" y1="424.60" x2="329.50" y2="424.60" stroke="#2b2b2b" stroke-width="0.9"/>
<text x="323.50" y="426.90" font-size="6.4" text-anchor="end" fill="#2e2e2e" stroke="#2e2e2e" stroke-width="0.1" >0</text>
<line x1="327.10" y1="408.60" x2="329.50" y2="408.60" stroke="#2b2b2b" stroke-width="0.9"/>
<text x="323.50" y="410.90" font-size="6.4" text-anchor="end" fill="#2e2e2e" stroke="#2e2e2e" stroke-width="0.1" >1</text>
<line x1="327.10" y1="392.60" x2="329.50" y2="392.60" stroke="#2b2b2b" stroke-width="0.9"/>
<text x="323.50" y="394.90" font-size="6.4" text-anchor="end" fill="#2e2e2e" stroke="#2e2e2e" stroke-width="0.1" >2</text>
<line x1="327.10" y1="376.60" x2="329.50" y2="376.60" stroke="#2b2b2b" stroke-width="0.9"/>
<text x="323.50" y="378.90" font-size="6.4" text-anchor="end" fill="#2e2e2e" stroke="#2e2e2e" stroke-width="0.1" >3</text>
<line x1="350.10" y1="424.60" x2="350.10" y2="427.20" stroke="#2b2b2b" stroke-width="0.9"/>
<line x1="380.90" y1="424.60" x2="380.90" y2="427.20" stroke="#2b2b2b" stroke-width="0.9"/>
<text x="350.10" y="436.10" font-size="6.2" text-anchor="middle" fill="#2e2e2e" stroke="#2e2e2e" stroke-width="0.08" >WT</text>
<text x="380.60" y="436.10" font-size="6.2" text-anchor="middle" fill="#2e2e2e" stroke="#2e2e2e" stroke-width="0.08" >gp91<tspan font-size="4.7" dy="-2.5" fill="#666" stroke="none">phox-/-</tspan></text>
<text x="305.50" y="399.60" font-size="8.0" text-anchor="middle" fill="#2e2e2e" stroke="#2e2e2e" stroke-width="0.2" textLength="54.5" lengthAdjust="spacingAndGlyphs" transform="rotate(-90 305.50 399.60)" >mRNA fold change</text>
<text x="314.40" y="399.60" font-size="7.2" text-anchor="middle" fill="#2e2e2e" stroke="#2e2e2e" stroke-width="0.2" textLength="45.5" lengthAdjust="spacingAndGlyphs" transform="rotate(-90 314.40 399.60)" >(relative to WT)</text>
<text x="477.30" y="367.50" font-size="8.5" text-anchor="middle" fill="#2e2e2e" stroke="#2e2e2e" stroke-width="0.1" font-style="italic" >Nox4</text>
<rect x="451.80" y="409.08" width="19.60" height="15.52" fill="#4a586e"/>
<line x1="461.60" y1="409.08" x2="461.60" y2="405.40" stroke="#1a1a1a" stroke-width="1.1"/>
<line x1="457.00" y1="405.40" x2="466.20" y2="405.40" stroke="#1a1a1a" stroke-width="1.2"/>
<circle cx="463.60" cy="408.60" r="1.05" fill="#111"/>
<circle cx="458.60" cy="409.40" r="1.05" fill="#111"/>
<rect x="482.60" y="387.80" width="19.60" height="36.80" fill="#cf0a2a"/>
<line x1="492.40" y1="419.16" x2="492.40" y2="387.48" stroke="#1a1a1a" stroke-width="1.1"/>
<line x1="487.80" y1="387.48" x2="497.00" y2="387.48" stroke="#1a1a1a" stroke-width="1.2"/>
<line x1="487.80" y1="419.16" x2="497.00" y2="419.16" stroke="#1a1a1a" stroke-width="1.2"/>
<circle cx="489.40" cy="387.32" r="1.05" fill="#111"/>
<circle cx="495.40" cy="387.32" r="1.05" fill="#111"/>
<circle cx="492.40" cy="419.16" r="1.05" fill="#111"/>
<line x1="441.00" y1="374.60" x2="441.00" y2="425.30" stroke="#2b2b2b" stroke-width="1.35"/>
<line x1="440.30" y1="424.60" x2="512.50" y2="424.60" stroke="#2b2b2b" stroke-width="1.35"/>
<line x1="438.60" y1="424.60" x2="441.00" y2="424.60" stroke="#2b2b2b" stroke-width="0.9"/>
<text x="435.00" y="426.90" font-size="6.4" text-anchor="end" fill="#2e2e2e" stroke="#2e2e2e" stroke-width="0.1" >0</text>
<line x1="438.60" y1="408.60" x2="441.00" y2="408.60" stroke="#2b2b2b" stroke-width="0.9"/>
<text x="435.00" y="410.90" font-size="6.4" text-anchor="end" fill="#2e2e2e" stroke="#2e2e2e" stroke-width="0.1" >1</text>
<line x1="438.60" y1="392.60" x2="441.00" y2="392.60" stroke="#2b2b2b" stroke-width="0.9"/>
<text x="435.00" y="394.90" font-size="6.4" text-anchor="end" fill="#2e2e2e" stroke="#2e2e2e" stroke-width="0.1" >2</text>
<line x1="438.60" y1="376.60" x2="441.00" y2="376.60" stroke="#2b2b2b" stroke-width="0.9"/>
<text x="435.00" y="378.90" font-size="6.4" text-anchor="end" fill="#2e2e2e" stroke="#2e2e2e" stroke-width="0.1" >3</text>
<line x1="461.60" y1="424.60" x2="461.60" y2="427.20" stroke="#2b2b2b" stroke-width="0.9"/>
<line x1="492.40" y1="424.60" x2="492.40" y2="427.20" stroke="#2b2b2b" stroke-width="0.9"/>
<text x="461.60" y="436.10" font-size="6.2" text-anchor="middle" fill="#2e2e2e" stroke="#2e2e2e" stroke-width="0.08" >WT</text>
<text x="492.10" y="436.10" font-size="6.2" text-anchor="middle" fill="#2e2e2e" stroke="#2e2e2e" stroke-width="0.08" >gp91<tspan font-size="4.7" dy="-2.5" fill="#666" stroke="none">phox-/-</tspan></text>
<text x="417.90" y="399.60" font-size="8.0" text-anchor="middle" fill="#2e2e2e" stroke="#2e2e2e" stroke-width="0.2" textLength="54.5" lengthAdjust="spacingAndGlyphs" transform="rotate(-90 417.90 399.60)" >mRNA fold change</text>
<text x="426.40" y="399.60" font-size="7.2" text-anchor="middle" fill="#2e2e2e" stroke="#2e2e2e" stroke-width="0.2" textLength="45.5" lengthAdjust="spacingAndGlyphs" transform="rotate(-90 426.40 399.60)" >(relative to WT)</text>
<text x="254.00" y="466.10" font-size="8.5" text-anchor="middle" fill="#2e2e2e" stroke="#2e2e2e" stroke-width="0.1" font-style="italic" >Nox1</text>
<rect x="228.50" y="506.78" width="19.60" height="15.52" fill="#4a586e"/>
<line x1="238.30" y1="506.78" x2="238.30" y2="500.06" stroke="#1a1a1a" stroke-width="1.1"/>
<line x1="233.70" y1="500.06" x2="242.90" y2="500.06" stroke="#1a1a1a" stroke-width="1.2"/>
<circle cx="233.30" cy="499.90" r="1.05" fill="#111"/>
<circle cx="243.30" cy="499.90" r="1.05" fill="#111"/>
<circle cx="233.30" cy="506.62" r="1.05" fill="#111"/>
<circle cx="243.30" cy="506.62" r="1.05" fill="#111"/>
<circle cx="238.30" cy="503.10" r="1.05" fill="#111"/>
<circle cx="237.30" cy="512.70" r="1.05" fill="#111"/>
<circle cx="239.30" cy="516.70" r="1.05" fill="#111"/>
<rect x="259.30" y="508.22" width="19.60" height="14.08" fill="#1c5a9c"/>
<line x1="269.10" y1="508.22" x2="269.10" y2="505.50" stroke="#1a1a1a" stroke-width="1.1"/>
<line x1="264.50" y1="505.50" x2="273.70" y2="505.50" stroke="#1a1a1a" stroke-width="1.2"/>
<circle cx="269.10" cy="496.38" r="1.05" fill="#111"/>
<circle cx="265.10" cy="505.50" r="1.05" fill="#111"/>
<circle cx="273.10" cy="505.50" r="1.05" fill="#111"/>
<circle cx="269.10" cy="510.30" r="1.05" fill="#111"/>
<circle cx="271.10" cy="508.70" r="1.05" fill="#111"/>
<line x1="217.70" y1="471.50" x2="217.70" y2="523.00" stroke="#2b2b2b" stroke-width="1.35"/>
<line x1="217.00" y1="522.30" x2="289.20" y2="522.30" stroke="#2b2b2b" stroke-width="1.35"/>
<line x1="215.30" y1="522.30" x2="217.70" y2="522.30" stroke="#2b2b2b" stroke-width="0.9"/>
<text x="211.70" y="524.60" font-size="6.4" text-anchor="end" fill="#2e2e2e" stroke="#2e2e2e" stroke-width="0.1" >0</text>
<line x1="215.30" y1="506.30" x2="217.70" y2="506.30" stroke="#2b2b2b" stroke-width="0.9"/>
<text x="211.70" y="508.60" font-size="6.4" text-anchor="end" fill="#2e2e2e" stroke="#2e2e2e" stroke-width="0.1" >1</text>
<line x1="215.30" y1="490.30" x2="217.70" y2="490.30" stroke="#2b2b2b" stroke-width="0.9"/>
<text x="211.70" y="492.60" font-size="6.4" text-anchor="end" fill="#2e2e2e" stroke="#2e2e2e" stroke-width="0.1" >2</text>
<line x1="215.30" y1="474.30" x2="217.70" y2="474.30" stroke="#2b2b2b" stroke-width="0.9"/>
<text x="211.70" y="476.60" font-size="6.4" text-anchor="end" fill="#2e2e2e" stroke="#2e2e2e" stroke-width="0.1" >3</text>
<line x1="238.30" y1="522.30" x2="238.30" y2="524.90" stroke="#2b2b2b" stroke-width="0.9"/>
<line x1="269.10" y1="522.30" x2="269.10" y2="524.90" stroke="#2b2b2b" stroke-width="0.9"/>
<text x="238.30" y="533.80" font-size="6.2" text-anchor="middle" fill="#2e2e2e" stroke="#2e2e2e" stroke-width="0.08" >WT</text>
<text x="268.80" y="533.80" font-size="6.2" text-anchor="middle" fill="#2e2e2e" stroke="#2e2e2e" stroke-width="0.08" >gp91<tspan font-size="4.7" dy="-2.5" fill="#666" stroke="none">phox-/-</tspan></text>
<text x="192.40" y="496.90" font-size="8.0" text-anchor="middle" fill="#2e2e2e" stroke="#2e2e2e" stroke-width="0.2" textLength="54.5" lengthAdjust="spacingAndGlyphs" transform="rotate(-90 192.40 496.90)" >mRNA fold change</text>
<text x="202.40" y="496.90" font-size="7.2" text-anchor="middle" fill="#2e2e2e" stroke="#2e2e2e" stroke-width="0.2" textLength="45.5" lengthAdjust="spacingAndGlyphs" transform="rotate(-90 202.40 496.90)" >(relative to WT)</text>
<text x="180.10" y="497.00" font-size="8.3" text-anchor="middle" fill="#2e2e2e" stroke="#2e2e2e" stroke-width="0.3" textLength="20.5" lengthAdjust="spacingAndGlyphs" transform="rotate(-90 180.10 497.00)" >IRCM</text>
<text x="365.80" y="466.10" font-size="8.5" text-anchor="middle" fill="#2e2e2e" stroke="#2e2e2e" stroke-width="0.1" font-style="italic" >Duox2</text>
<rect x="340.30" y="508.22" width="19.60" height="14.08" fill="#4a586e"/>
<line x1="350.10" y1="508.22" x2="350.10" y2="503.10" stroke="#1a1a1a" stroke-width="1.1"/>
<line x1="345.50" y1="503.10" x2="354.70" y2="503.10" stroke="#1a1a1a" stroke-width="1.2"/>
<circle cx="350.10" cy="498.30" r="1.05" fill="#111"/>
<circle cx="347.10" cy="501.50" r="1.05" fill="#111"/>
<circle cx="343.10" cy="505.50" r="1.05" fill="#111"/>
<circle cx="353.10" cy="504.70" r="1.05" fill="#111"/>
<circle cx="344.10" cy="508.70" r="1.05" fill="#111"/>
<circle cx="356.10" cy="507.90" r="1.05" fill="#111"/>
<circle cx="348.10" cy="511.10" r="1.05" fill="#111"/>
<circle cx="352.10" cy="509.50" r="1.05" fill="#111"/>
<rect x="371.10" y="511.74" width="19.60" height="10.56" fill="#1c5a9c"/>
<line x1="380.90" y1="511.74" x2="380.90" y2="505.82" stroke="#1a1a1a" stroke-width="1.1"/>
<line x1="376.30" y1="505.82" x2="385.50" y2="505.82" stroke="#1a1a1a" stroke-width="1.2"/>
<circle cx="373.90" cy="511.10" r="1.05" fill="#111"/>
<circle cx="377.90" cy="511.10" r="1.05" fill="#111"/>
<circle cx="386.90" cy="505.50" r="1.05" fill="#111"/>
<circle cx="382.90" cy="505.50" r="1.05" fill="#111"/>
<line x1="329.50" y1="471.50" x2="329.50" y2="523.00" stroke="#2b2b2b" stroke-width="1.35"/>
<line x1="328.80" y1="522.30" x2="401.00" y2="522.30" stroke="#2b2b2b" stroke-width="1.35"/>
<line x1="327.10" y1="522.30" x2="329.50" y2="522.30" stroke="#2b2b2b" stroke-width="0.9"/>
<text x="323.50" y="524.60" font-size="6.4" text-anchor="end" fill="#2e2e2e" stroke="#2e2e2e" stroke-width="0.1" >0</text>
<line x1="327.10" y1="506.30" x2="329.50" y2="506.30" stroke="#2b2b2b" stroke-width="0.9"/>
<text x="323.50" y="508.60" font-size="6.4" text-anchor="end" fill="#2e2e2e" stroke="#2e2e2e" stroke-width="0.1" >1</text>
<line x1="327.10" y1="490.30" x2="329.50" y2="490.30" stroke="#2b2b2b" stroke-width="0.9"/>
<text x="323.50" y="492.60" font-size="6.4" text-anchor="end" fill="#2e2e2e" stroke="#2e2e2e" stroke-width="0.1" >2</text>
<line x1="327.10" y1="474.30" x2="329.50" y2="474.30" stroke="#2b2b2b" stroke-width="0.9"/>
<text x="323.50" y="476.60" font-size="6.4" text-anchor="end" fill="#2e2e2e" stroke="#2e2e2e" stroke-width="0.1" >3</text>
<line x1="350.10" y1="522.30" x2="350.10" y2="524.90" stroke="#2b2b2b" stroke-width="0.9"/>
<line x1="380.90" y1="522.30" x2="380.90" y2="524.90" stroke="#2b2b2b" stroke-width="0.9"/>
<text x="350.10" y="533.80" font-size="6.2" text-anchor="middle" fill="#2e2e2e" stroke="#2e2e2e" stroke-width="0.08" >WT</text>
<text x="380.60" y="533.80" font-size="6.2" text-anchor="middle" fill="#2e2e2e" stroke="#2e2e2e" stroke-width="0.08" >gp91<tspan font-size="4.7" dy="-2.5" fill="#666" stroke="none">phox-/-</tspan></text>
<text x="305.50" y="496.90" font-size="8.0" text-anchor="middle" fill="#2e2e2e" stroke="#2e2e2e" stroke-width="0.2" textLength="54.5" lengthAdjust="spacingAndGlyphs" transform="rotate(-90 305.50 496.90)" >mRNA fold change</text>
<text x="314.40" y="496.90" font-size="7.2" text-anchor="middle" fill="#2e2e2e" stroke="#2e2e2e" stroke-width="0.2" textLength="45.5" lengthAdjust="spacingAndGlyphs" transform="rotate(-90 314.40 496.90)" >(relative to WT)</text>
<text x="477.30" y="466.10" font-size="8.5" text-anchor="middle" fill="#2e2e2e" stroke="#2e2e2e" stroke-width="0.1" font-style="italic" >Nox4</text>
<rect x="451.80" y="506.46" width="19.60" height="15.84" fill="#4a586e"/>
<line x1="461.60" y1="506.46" x2="461.60" y2="503.74" stroke="#1a1a1a" stroke-width="1.1"/>
<line x1="457.00" y1="503.74" x2="466.20" y2="503.74" stroke="#1a1a1a" stroke-width="1.2"/>
<circle cx="461.60" cy="499.74" r="1.05" fill="#111"/>
<circle cx="453.60" cy="503.10" r="1.05" fill="#111"/>
<circle cx="469.60" cy="504.70" r="1.05" fill="#111"/>
<circle cx="453.60" cy="507.10" r="1.05" fill="#111"/>
<circle cx="457.60" cy="511.10" r="1.05" fill="#111"/>
<circle cx="465.60" cy="508.70" r="1.05" fill="#111"/>
<rect x="482.60" y="504.38" width="19.60" height="17.92" fill="#1c5a9c"/>
<line x1="492.40" y1="504.38" x2="492.40" y2="503.42" stroke="#1a1a1a" stroke-width="1.1"/>
<line x1="487.80" y1="503.42" x2="497.00" y2="503.42" stroke="#1a1a1a" stroke-width="1.2"/>
<circle cx="484.40" cy="504.70" r="1.05" fill="#111"/>
<circle cx="489.40" cy="503.10" r="1.05" fill="#111"/>
<circle cx="495.40" cy="503.10" r="1.05" fill="#111"/>
<circle cx="500.40" cy="504.70" r="1.05" fill="#111"/>
<line x1="441.00" y1="471.50" x2="441.00" y2="523.00" stroke="#2b2b2b" stroke-width="1.35"/>
<line x1="440.30" y1="522.30" x2="512.50" y2="522.30" stroke="#2b2b2b" stroke-width="1.35"/>
<line x1="438.60" y1="522.30" x2="441.00" y2="522.30" stroke="#2b2b2b" stroke-width="0.9"/>
<text x="435.00" y="524.60" font-size="6.4" text-anchor="end" fill="#2e2e2e" stroke="#2e2e2e" stroke-width="0.1" >0</text>
<line x1="438.60" y1="506.30" x2="441.00" y2="506.30" stroke="#2b2b2b" stroke-width="0.9"/>
<text x="435.00" y="508.60" font-size="6.4" text-anchor="end" fill="#2e2e2e" stroke="#2e2e2e" stroke-width="0.1" >1</text>
<line x1="438.60" y1="490.30" x2="441.00" y2="490.30" stroke="#2b2b2b" stroke-width="0.9"/>
<text x="435.00" y="492.60" font-size="6.4" text-anchor="end" fill="#2e2e2e" stroke="#2e2e2e" stroke-width="0.1" >2</text>
<line x1="438.60" y1="474.30" x2="441.00" y2="474.30" stroke="#2b2b2b" stroke-width="0.9"/>
<text x="435.00" y="476.60" font-size="6.4" text-anchor="end" fill="#2e2e2e" stroke="#2e2e2e" stroke-width="0.1" >3</text>
<line x1="461.60" y1="522.30" x2="461.60" y2="524.90" stroke="#2b2b2b" stroke-width="0.9"/>
<line x1="492.40" y1="522.30" x2="492.40" y2="524.90" stroke="#2b2b2b" stroke-width="0.9"/>
<text x="461.60" y="533.80" font-size="6.2" text-anchor="middle" fill="#2e2e2e" stroke="#2e2e2e" stroke-width="0.08" >WT</text>
<text x="492.10" y="533.80" font-size="6.2" text-anchor="middle" fill="#2e2e2e" stroke="#2e2e2e" stroke-width="0.08" >gp91<tspan font-size="4.7" dy="-2.5" fill="#666" stroke="none">phox-/-</tspan></text>
<text x="417.90" y="496.90" font-size="8.0" text-anchor="middle" fill="#2e2e2e" stroke="#2e2e2e" stroke-width="0.2" textLength="54.5" lengthAdjust="spacingAndGlyphs" transform="rotate(-90 417.90 496.90)" >mRNA fold change</text>
<text x="426.40" y="496.90" font-size="7.2" text-anchor="middle" fill="#2e2e2e" stroke="#2e2e2e" stroke-width="0.2" textLength="45.5" lengthAdjust="spacingAndGlyphs" transform="rotate(-90 426.40 496.90)" >(relative to WT)</text>
<text x="82.60" y="573.60" font-size="9.0" text-anchor="middle" fill="#2e2e2e" stroke="#2e2e2e" stroke-width="0.15" textLength="49.4" lengthAdjust="spacingAndGlyphs" >IRCM Animal</text>
<text x="82.20" y="582.90" font-size="9.0" text-anchor="middle" fill="#2e2e2e" stroke="#2e2e2e" stroke-width="0.15" textLength="25.5" lengthAdjust="spacingAndGlyphs" >Facility</text>
<rect x="64.80" y="630.41" width="7.70" height="28.39" fill="#abafba"/>
<line x1="68.65" y1="630.41" x2="68.65" y2="626.38" stroke="#8d92a3" stroke-width="0.9"/>
<line x1="65.65" y1="626.38" x2="71.65" y2="626.38" stroke="#8d92a3" stroke-width="1.0"/>
<rect x="78.15" y="624.19" width="7.70" height="34.61" fill="#8d9bca"/>
<line x1="82.00" y1="624.19" x2="82.00" y2="610.58" stroke="#6f80b8" stroke-width="0.9"/>
<line x1="79.00" y1="610.58" x2="85.00" y2="610.58" stroke="#6f80b8" stroke-width="1.0"/>
<rect x="91.85" y="624.19" width="7.70" height="34.61" fill="#aa88be"/>
<line x1="95.70" y1="624.19" x2="95.70" y2="614.95" stroke="#9473ad" stroke-width="0.9"/>
<line x1="92.70" y1="614.95" x2="98.70" y2="614.95" stroke="#9473ad" stroke-width="1.0"/>
<line x1="82.00" y1="624.19" x2="82.00" y2="636.29" stroke="#5d6fae" stroke-width="0.9"/>
<line x1="95.70" y1="624.19" x2="95.70" y2="633.60" stroke="#8a64a6" stroke-width="0.9"/>
<circle cx="65.60" cy="626.00" r="1.35" fill="#1e2840"/>
<circle cx="71.70" cy="624.20" r="1.35" fill="#1e2840"/>
<circle cx="71.90" cy="629.00" r="1.35" fill="#1e2840"/>
<circle cx="68.70" cy="639.30" r="1.35" fill="#1e2840"/>
<circle cx="82.00" cy="610.60" r="1.35" fill="#1a3060"/>
<circle cx="82.00" cy="636.30" r="1.35" fill="#1a3060"/>
<circle cx="95.70" cy="628.60" r="1.35" fill="#5a2f78"/>
<circle cx="95.70" cy="635.20" r="1.35" fill="#5a2f78"/>
<path d="M95.7 605.9 L96.9 608.0 L94.5 608.0 Z" fill="#222"/>
<line x1="59.20" y1="588.50" x2="59.20" y2="659.40" stroke="#2b2b2b" stroke-width="1.2"/>
<line x1="58.60" y1="658.80" x2="105.40" y2="658.80" stroke="#2b2b2b" stroke-width="1.2"/>
<line x1="56.80" y1="658.80" x2="59.20" y2="658.80" stroke="#2b2b2b" stroke-width="0.9"/>
<text x="53.90" y="660.90" font-size="6.0" text-anchor="end" fill="#2e2e2e" stroke="#2e2e2e" stroke-width="0.15" >0</text>
<line x1="56.80" y1="642.00" x2="59.20" y2="642.00" stroke="#2b2b2b" stroke-width="0.9"/>
<text x="53.90" y="644.10" font-size="6.0" text-anchor="end" fill="#2e2e2e" stroke="#2e2e2e" stroke-width="0.15" >1000</text>
<line x1="56.80" y1="625.20" x2="59.20" y2="625.20" stroke="#2b2b2b" stroke-width="0.9"/>
<text x="53.90" y="627.30" font-size="6.0" text-anchor="end" fill="#2e2e2e" stroke="#2e2e2e" stroke-width="0.15" >2000</text>
<line x1="56.80" y1="608.40" x2="59.20" y2="608.40" stroke="#2b2b2b" stroke-width="0.9"/>
<text x="53.90" y="610.50" font-size="6.0" text-anchor="end" fill="#2e2e2e" stroke="#2e2e2e" stroke-width="0.15" >3000</text>
<line x1="56.80" y1="591.60" x2="59.20" y2="591.60" stroke="#2b2b2b" stroke-width="0.9"/>
<text x="53.90" y="593.70" font-size="6.0" text-anchor="end" fill="#2e2e2e" stroke="#2e2e2e" stroke-width="0.15" >4000</text>
<line x1="68.65" y1="658.80" x2="68.65" y2="661.40" stroke="#2b2b2b" stroke-width="0.9"/>
<line x1="82.00" y1="658.80" x2="82.00" y2="661.40" stroke="#2b2b2b" stroke-width="0.9"/>
<line x1="95.70" y1="658.80" x2="95.70" y2="661.40" stroke="#2b2b2b" stroke-width="0.9"/>
<text x="72.15" y="669.10" font-size="6.4" text-anchor="end" fill="#2e2e2e" stroke="#2e2e2e" stroke-width="0.1" transform="rotate(-45 72.15 669.10)">WT</text>
<text x="86.80" y="669.10" font-size="6.4" text-anchor="end" fill="#2e2e2e" stroke="#2e2e2e" stroke-width="0.1" transform="rotate(-45 86.80 669.10)">gp91<tspan font-size="4.7" dy="-2.5" fill="#666" stroke="none">phox-/-</tspan></text>
<text x="100.50" y="669.10" font-size="6.4" text-anchor="end" fill="#2e2e2e" stroke="#2e2e2e" stroke-width="0.1" transform="rotate(-45 100.50 669.10)">p47<tspan font-size="4.7" dy="-2.5" fill="#666" stroke="none">phox-/-</tspan></text>
<text x="13.60" y="623.70" font-size="7.0" text-anchor="middle" fill="#2e2e2e" stroke="#2e2e2e" stroke-width="0.22" textLength="25.3" lengthAdjust="spacingAndGlyphs" transform="rotate(-90 13.60 623.70)" >MitoSOX</text>
<text x="23.00" y="623.70" font-size="7.0" text-anchor="middle" fill="#2e2e2e" stroke="#2e2e2e" stroke-width="0.22" textLength="58" lengthAdjust="spacingAndGlyphs" transform="rotate(-90 23.00 623.70)" >(mean fluorescence</text>
<text x="34.20" y="623.70" font-size="7.0" text-anchor="middle" fill="#2e2e2e" stroke="#2e2e2e" stroke-width="0.22" textLength="28.8" lengthAdjust="spacingAndGlyphs" transform="rotate(-90 34.20 623.70)" >intensity)</text>
</svg>
<div class="frame"></div>
</body></html>
